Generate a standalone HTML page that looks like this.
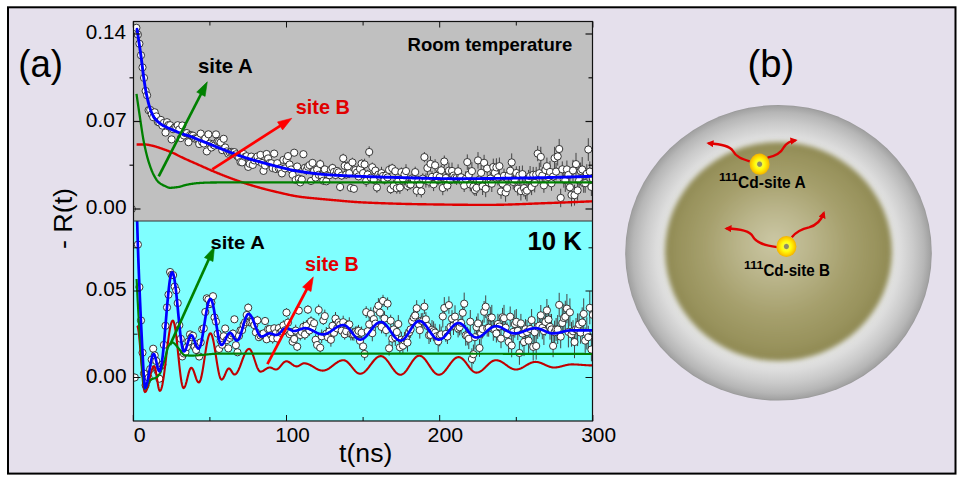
<!DOCTYPE html>
<html><head><meta charset="utf-8"><style>
html,body{margin:0;padding:0;background:#fff;}
body{width:962px;height:484px;overflow:hidden;}
svg{display:block;}
</style></head><body>
<svg width="962" height="484" viewBox="0 0 962 484">
<rect x="0" y="0" width="962" height="484" fill="#ffffff"/>
<rect x="8" y="7.3" width="947.5" height="466.3" fill="#e5e0ec" stroke="#000" stroke-width="2"/>
<rect x="133.5" y="22" width="459" height="199" fill="#c0c0c0"/>
<rect x="133.5" y="221" width="459" height="200" fill="#80ffff"/>
<clipPath id="cu"><rect x="133.5" y="22" width="459" height="199"/></clipPath>
<clipPath id="cl"><rect x="133.5" y="221" width="459" height="200"/></clipPath>
<path d="M137.9,33.4V35.9 M139.4,42.4V44.9 M141.0,53.8V56.8 M142.5,66.1V68.8 M144.0,76.3V79.6 M145.6,89.4V92.4 M147.1,93.4V97.2 M148.6,108.7V111.6 M150.2,108.5V111.2 M151.7,112.4V116.1 M153.2,115.8V118.6 M154.7,110.8V113.9 M156.3,114.7V118.0 M157.8,120.5V123.4 M159.3,120.7V124.3 M160.9,118.2V121.7 M162.4,123.9V127.2 M163.9,120.9V124.6 M165.5,131.0V134.1 M167.0,120.2V124.2 M168.5,123.1V126.9 M170.1,123.8V126.7 M171.6,137.7V141.1 M173.1,127.5V131.0 M174.7,126.1V128.9 M176.2,125.3V129.0 M177.7,123.1V127.4 M179.3,127.5V131.3 M180.8,136.2V140.0 M182.3,123.3V127.8 M183.9,133.6V137.3 M185.4,131.1V135.2 M186.9,131.1V135.1 M188.5,140.5V144.0 M190.0,133.1V136.8 M191.5,133.5V137.3 M193.0,134.0V137.4 M194.6,136.1V140.6 M196.1,137.2V140.6 M197.6,136.1V140.8 M199.2,142.3V145.6 M200.7,131.2V136.0 M202.2,139.8V144.6 M203.8,141.5V145.5 M205.3,136.4V140.4 M206.8,149.6V153.2 M208.4,132.4V136.1 M209.9,141.5V145.8 M211.4,145.2V149.7 M213.0,142.3V146.5 M214.5,143.4V147.6 M216.0,131.9V136.8 M217.6,139.0V143.6 M219.1,139.5V143.2 M220.6,139.8V145.2 M222.2,147.5V152.7 M223.7,136.6V141.0 M225.2,145.0V150.0 M226.8,149.5V153.3 M228.3,151.7V155.8 M229.8,150.3V154.8 M231.3,149.8V153.9 M232.9,150.3V154.4 M234.4,149.2V155.0 M235.9,151.7V156.9 M237.5,153.9V158.6 M239.0,155.2V160.0 M240.5,158.9V165.2 M242.1,159.8V164.9 M243.6,151.8V156.2 M245.1,154.3V159.3 M246.7,153.9V158.5 M248.2,164.8V169.0 M249.7,161.6V166.1 M251.3,153.8V159.4 M252.8,161.6V168.3 M254.3,157.1V163.6 M255.9,155.8V161.1 M257.4,154.1V158.9 M258.9,158.2V164.6 M260.5,152.2V157.6 M262.0,159.4V166.5 M263.5,167.5V174.2 M265.1,162.2V168.7 M266.6,151.4V156.6 M268.1,156.1V160.8 M269.6,160.6V165.4 M271.2,159.9V166.5 M272.7,164.5V171.8 M274.2,149.9V157.4 M275.8,165.2V172.7 M277.3,160.4V166.0 M278.8,165.8V171.3 M280.4,164.5V172.0 M281.9,169.7V177.1 M283.4,156.2V163.5 M285.0,165.7V171.1 M286.5,156.5V164.0 M288.0,152.4V159.8 M289.6,160.7V168.3 M291.1,166.3V172.6 M292.6,171.5V178.0 M294.2,149.4V156.0 M295.7,176.9V182.9 M297.2,163.6V169.5 M298.8,174.7V182.8 M300.3,179.4V185.4 M301.8,175.7V183.3 M303.4,150.8V157.5 M304.9,164.9V170.6 M306.4,165.9V174.8 M307.9,162.3V171.1 M309.5,161.4V168.7 M311.0,177.7V184.3 M312.5,159.5V166.3 M314.1,167.1V175.0 M315.6,174.2V181.0 M317.1,165.0V174.1 M318.7,171.1V178.4 M320.2,159.5V168.7 M321.7,171.9V179.5 M323.3,176.6V184.7 M324.8,165.3V173.4 M326.3,177.8V184.8 M327.9,171.5V177.9 M329.4,171.2V179.3 M330.9,165.2V174.3 M332.5,163.8V172.2 M334.0,167.6V176.2 M335.5,170.7V179.3 M337.1,167.2V174.7 M338.6,168.0V176.6 M340.1,182.6V191.4 M341.7,171.4V179.9 M343.2,153.7V162.9 M344.7,161.0V170.6 M346.2,170.1V178.8 M347.8,161.2V171.9 M349.3,168.3V178.1 M350.8,183.8V191.9 M352.4,157.7V167.1 M353.9,184.9V192.6 M355.4,166.2V174.0 M357.0,168.4V176.6 M358.5,172.6V180.2 M360.0,163.3V174.4 M361.6,159.6V167.7 M363.1,169.0V177.1 M364.6,158.7V170.0 M366.2,175.1V186.8 M367.7,169.9V179.2 M369.2,146.3V157.6 M370.8,173.4V181.9 M372.3,162.5V171.8 M373.8,175.5V184.2 M375.4,166.6V174.6 M376.9,182.3V192.8 M378.4,169.8V179.3 M380.0,171.1V182.0 M381.5,166.8V179.4 M383.0,170.0V181.8 M384.5,175.2V184.6 M386.1,171.3V179.8 M387.6,172.9V181.9 M389.1,164.7V175.1 M390.7,184.4V194.0 M392.2,163.7V172.9 M393.7,179.8V191.7 M395.3,166.7V175.7 M396.8,183.0V193.7 M398.3,176.5V185.6 M399.9,181.2V193.9 M401.4,167.5V176.7 M402.9,172.0V185.2 M404.5,168.6V179.9 M406.0,164.2V177.9 M407.5,180.7V191.1 M409.1,178.8V189.2 M410.6,179.6V189.3 M412.1,173.3V183.5 M413.7,173.9V184.8 M415.2,166.7V177.5 M416.7,184.7V196.8 M418.3,175.8V185.4 M419.8,178.9V189.7 M421.3,185.0V197.5 M422.8,173.3V183.9 M424.4,152.0V162.2 M425.9,173.4V187.6 M427.4,160.8V175.1 M429.0,175.6V187.6 M430.5,156.2V171.6 M432.0,170.9V182.8 M433.6,177.6V191.1 M435.1,159.2V171.5 M436.6,170.4V181.2 M438.2,174.7V185.3 M439.7,171.6V182.7 M441.2,164.9V175.7 M442.8,180.9V195.2 M444.3,155.5V167.5 M445.8,171.4V184.6 M447.4,179.8V191.3 M448.9,162.5V178.8 M450.4,171.9V188.4 M452.0,162.6V179.2 M453.5,169.3V181.9 M455.0,170.8V184.0 M456.6,171.1V184.9 M458.1,164.3V178.4 M459.6,172.1V183.1 M461.1,170.5V184.1 M462.7,176.1V187.5 M464.2,179.4V192.0 M465.7,171.3V186.3 M467.3,154.4V169.9 M468.8,166.8V182.8 M470.3,177.7V191.3 M471.9,162.2V180.1 M473.4,178.8V194.5 M474.9,184.0V195.9 M476.5,179.9V195.8 M478.0,152.1V168.7 M479.5,171.9V187.2 M481.1,165.1V180.4 M482.6,177.5V195.0 M484.1,154.8V170.7 M485.7,180.4V197.2 M487.2,161.7V175.4 M488.7,175.1V189.8 M490.3,172.0V184.9 M491.8,175.4V192.0 M493.3,158.6V175.4 M494.9,166.5V179.0 M496.4,158.3V176.5 M497.9,169.1V185.4 M499.4,157.5V174.8 M501.0,184.3V198.8 M502.5,176.9V190.2 M504.0,168.6V183.0 M505.6,183.4V201.7 M507.1,180.3V196.1 M508.6,167.3V183.8 M510.2,161.8V179.5 M511.7,153.4V171.3 M513.2,174.4V189.5 M514.8,170.2V189.1 M516.3,166.3V179.7 M517.8,181.8V195.6 M519.4,166.0V184.8 M520.9,181.8V200.5 M522.4,165.5V182.7 M524.0,179.5V196.7 M525.5,184.1V199.4 M527.0,179.9V201.3 M528.6,169.9V187.3 M530.1,166.0V186.4 M531.6,179.0V195.1 M533.2,166.9V182.7 M534.7,173.6V192.4 M536.2,166.9V182.3 M537.7,145.9V161.2 M539.3,162.7V183.7 M540.8,146.8V167.0 M542.3,167.4V183.8 M543.9,178.0V192.8 M545.4,162.7V177.4 M546.9,157.6V174.8 M548.5,169.1V185.0 M550.0,161.0V182.8 M551.5,175.9V190.8 M553.1,168.5V184.5 M554.6,146.8V169.7 M556.1,162.9V180.4 M557.7,147.2V165.6 M559.2,138.9V159.2 M560.7,188.7V207.2 M562.3,161.4V177.2 M563.8,171.3V187.7 M565.3,168.2V191.9 M566.9,160.5V178.2 M568.4,166.2V183.6 M569.9,177.8V196.8 M571.5,183.4V206.4 M573.0,159.8V181.3 M574.5,184.7V205.6 M576.0,152.9V175.4 M577.6,180.4V200.5 M579.1,168.9V191.9 M580.6,162.5V179.2 M582.2,157.1V181.9 M583.7,173.3V192.8 M585.2,173.6V192.8 M586.8,164.2V183.2 M588.3,138.2V160.9 M589.8,161.4V181.8 M591.4,177.7V196.0 M592.9,166.0V191.4" stroke="#444" stroke-width="1" fill="none" clip-path="url(#cu)"/>
<g fill="#fff" stroke="#222" stroke-width="0.9" clip-path="url(#cu)"><circle cx="131.8" cy="209.0" r="3.6"/><circle cx="133.3" cy="31.8" r="3.6"/><circle cx="134.8" cy="32.8" r="3.6"/><circle cx="136.4" cy="27.8" r="3.6"/><circle cx="137.9" cy="34.6" r="3.6"/><circle cx="139.4" cy="43.7" r="3.6"/><circle cx="141.0" cy="55.3" r="3.6"/><circle cx="142.5" cy="67.4" r="3.6"/><circle cx="144.0" cy="77.9" r="3.6"/><circle cx="145.6" cy="90.9" r="3.6"/><circle cx="147.1" cy="95.3" r="3.6"/><circle cx="148.6" cy="110.2" r="3.6"/><circle cx="150.2" cy="109.9" r="3.6"/><circle cx="151.7" cy="114.3" r="3.6"/><circle cx="153.2" cy="117.2" r="3.6"/><circle cx="154.7" cy="112.3" r="3.6"/><circle cx="156.3" cy="116.4" r="3.6"/><circle cx="157.8" cy="121.9" r="3.6"/><circle cx="159.3" cy="122.5" r="3.6"/><circle cx="160.9" cy="119.9" r="3.6"/><circle cx="162.4" cy="125.6" r="3.6"/><circle cx="163.9" cy="122.8" r="3.6"/><circle cx="165.5" cy="132.6" r="3.6"/><circle cx="167.0" cy="122.2" r="3.6"/><circle cx="168.5" cy="125.0" r="3.6"/><circle cx="170.1" cy="125.2" r="3.6"/><circle cx="171.6" cy="139.4" r="3.6"/><circle cx="173.1" cy="129.2" r="3.6"/><circle cx="174.7" cy="127.5" r="3.6"/><circle cx="176.2" cy="127.1" r="3.6"/><circle cx="177.7" cy="125.2" r="3.6"/><circle cx="179.3" cy="129.4" r="3.6"/><circle cx="180.8" cy="138.1" r="3.6"/><circle cx="182.3" cy="125.5" r="3.6"/><circle cx="183.9" cy="135.5" r="3.6"/><circle cx="185.4" cy="133.1" r="3.6"/><circle cx="186.9" cy="133.1" r="3.6"/><circle cx="188.5" cy="142.2" r="3.6"/><circle cx="190.0" cy="135.0" r="3.6"/><circle cx="191.5" cy="135.4" r="3.6"/><circle cx="193.0" cy="135.7" r="3.6"/><circle cx="194.6" cy="138.4" r="3.6"/><circle cx="196.1" cy="138.9" r="3.6"/><circle cx="197.6" cy="138.4" r="3.6"/><circle cx="199.2" cy="144.0" r="3.6"/><circle cx="200.7" cy="133.6" r="3.6"/><circle cx="202.2" cy="142.2" r="3.6"/><circle cx="203.8" cy="143.5" r="3.6"/><circle cx="205.3" cy="138.4" r="3.6"/><circle cx="206.8" cy="151.4" r="3.6"/><circle cx="208.4" cy="134.3" r="3.6"/><circle cx="209.9" cy="143.6" r="3.6"/><circle cx="211.4" cy="147.5" r="3.6"/><circle cx="213.0" cy="144.4" r="3.6"/><circle cx="214.5" cy="145.5" r="3.6"/><circle cx="216.0" cy="134.4" r="3.6"/><circle cx="217.6" cy="141.3" r="3.6"/><circle cx="219.1" cy="141.4" r="3.6"/><circle cx="220.6" cy="142.5" r="3.6"/><circle cx="222.2" cy="150.1" r="3.6"/><circle cx="223.7" cy="138.8" r="3.6"/><circle cx="225.2" cy="147.5" r="3.6"/><circle cx="226.8" cy="151.4" r="3.6"/><circle cx="228.3" cy="153.7" r="3.6"/><circle cx="229.8" cy="152.6" r="3.6"/><circle cx="231.3" cy="151.9" r="3.6"/><circle cx="232.9" cy="152.4" r="3.6"/><circle cx="234.4" cy="152.1" r="3.6"/><circle cx="235.9" cy="154.3" r="3.6"/><circle cx="237.5" cy="156.3" r="3.6"/><circle cx="239.0" cy="157.6" r="3.6"/><circle cx="240.5" cy="162.0" r="3.6"/><circle cx="242.1" cy="162.4" r="3.6"/><circle cx="243.6" cy="154.0" r="3.6"/><circle cx="245.1" cy="156.8" r="3.6"/><circle cx="246.7" cy="156.2" r="3.6"/><circle cx="248.2" cy="166.9" r="3.6"/><circle cx="249.7" cy="163.8" r="3.6"/><circle cx="251.3" cy="156.6" r="3.6"/><circle cx="252.8" cy="164.9" r="3.6"/><circle cx="254.3" cy="160.4" r="3.6"/><circle cx="255.9" cy="158.5" r="3.6"/><circle cx="257.4" cy="156.5" r="3.6"/><circle cx="258.9" cy="161.4" r="3.6"/><circle cx="260.5" cy="154.9" r="3.6"/><circle cx="262.0" cy="163.0" r="3.6"/><circle cx="263.5" cy="170.9" r="3.6"/><circle cx="265.1" cy="165.5" r="3.6"/><circle cx="266.6" cy="154.0" r="3.6"/><circle cx="268.1" cy="158.4" r="3.6"/><circle cx="269.6" cy="163.0" r="3.6"/><circle cx="271.2" cy="163.2" r="3.6"/><circle cx="272.7" cy="168.1" r="3.6"/><circle cx="274.2" cy="153.6" r="3.6"/><circle cx="275.8" cy="169.0" r="3.6"/><circle cx="277.3" cy="163.2" r="3.6"/><circle cx="278.8" cy="168.6" r="3.6"/><circle cx="280.4" cy="168.3" r="3.6"/><circle cx="281.9" cy="173.4" r="3.6"/><circle cx="283.4" cy="159.9" r="3.6"/><circle cx="285.0" cy="168.4" r="3.6"/><circle cx="286.5" cy="160.2" r="3.6"/><circle cx="288.0" cy="156.1" r="3.6"/><circle cx="289.6" cy="164.5" r="3.6"/><circle cx="291.1" cy="169.5" r="3.6"/><circle cx="292.6" cy="174.8" r="3.6"/><circle cx="294.2" cy="152.7" r="3.6"/><circle cx="295.7" cy="179.9" r="3.6"/><circle cx="297.2" cy="166.5" r="3.6"/><circle cx="298.8" cy="178.7" r="3.6"/><circle cx="300.3" cy="182.4" r="3.6"/><circle cx="301.8" cy="179.5" r="3.6"/><circle cx="303.4" cy="154.2" r="3.6"/><circle cx="304.9" cy="167.8" r="3.6"/><circle cx="306.4" cy="170.3" r="3.6"/><circle cx="307.9" cy="166.7" r="3.6"/><circle cx="309.5" cy="165.1" r="3.6"/><circle cx="311.0" cy="181.0" r="3.6"/><circle cx="312.5" cy="162.9" r="3.6"/><circle cx="314.1" cy="171.1" r="3.6"/><circle cx="315.6" cy="177.6" r="3.6"/><circle cx="317.1" cy="169.5" r="3.6"/><circle cx="318.7" cy="174.8" r="3.6"/><circle cx="320.2" cy="164.1" r="3.6"/><circle cx="321.7" cy="175.7" r="3.6"/><circle cx="323.3" cy="180.7" r="3.6"/><circle cx="324.8" cy="169.4" r="3.6"/><circle cx="326.3" cy="181.3" r="3.6"/><circle cx="327.9" cy="174.7" r="3.6"/><circle cx="329.4" cy="175.2" r="3.6"/><circle cx="330.9" cy="169.7" r="3.6"/><circle cx="332.5" cy="168.0" r="3.6"/><circle cx="334.0" cy="171.9" r="3.6"/><circle cx="335.5" cy="175.0" r="3.6"/><circle cx="337.1" cy="170.9" r="3.6"/><circle cx="338.6" cy="172.3" r="3.6"/><circle cx="340.1" cy="187.0" r="3.6"/><circle cx="341.7" cy="175.6" r="3.6"/><circle cx="343.2" cy="158.3" r="3.6"/><circle cx="344.7" cy="165.8" r="3.6"/><circle cx="346.2" cy="174.5" r="3.6"/><circle cx="347.8" cy="166.5" r="3.6"/><circle cx="349.3" cy="173.2" r="3.6"/><circle cx="350.8" cy="187.9" r="3.6"/><circle cx="352.4" cy="162.4" r="3.6"/><circle cx="353.9" cy="188.8" r="3.6"/><circle cx="355.4" cy="170.1" r="3.6"/><circle cx="357.0" cy="172.5" r="3.6"/><circle cx="358.5" cy="176.4" r="3.6"/><circle cx="360.0" cy="168.8" r="3.6"/><circle cx="361.6" cy="163.6" r="3.6"/><circle cx="363.1" cy="173.1" r="3.6"/><circle cx="364.6" cy="164.4" r="3.6"/><circle cx="366.2" cy="181.0" r="3.6"/><circle cx="367.7" cy="174.5" r="3.6"/><circle cx="369.2" cy="152.0" r="3.6"/><circle cx="370.8" cy="177.7" r="3.6"/><circle cx="372.3" cy="167.2" r="3.6"/><circle cx="373.8" cy="179.8" r="3.6"/><circle cx="375.4" cy="170.6" r="3.6"/><circle cx="376.9" cy="187.5" r="3.6"/><circle cx="378.4" cy="174.6" r="3.6"/><circle cx="380.0" cy="176.6" r="3.6"/><circle cx="381.5" cy="173.1" r="3.6"/><circle cx="383.0" cy="175.9" r="3.6"/><circle cx="384.5" cy="179.9" r="3.6"/><circle cx="386.1" cy="175.5" r="3.6"/><circle cx="387.6" cy="177.4" r="3.6"/><circle cx="389.1" cy="169.9" r="3.6"/><circle cx="390.7" cy="189.2" r="3.6"/><circle cx="392.2" cy="168.3" r="3.6"/><circle cx="393.7" cy="185.8" r="3.6"/><circle cx="395.3" cy="171.2" r="3.6"/><circle cx="396.8" cy="188.3" r="3.6"/><circle cx="398.3" cy="181.0" r="3.6"/><circle cx="399.9" cy="187.5" r="3.6"/><circle cx="401.4" cy="172.1" r="3.6"/><circle cx="402.9" cy="178.6" r="3.6"/><circle cx="404.5" cy="174.3" r="3.6"/><circle cx="406.0" cy="171.1" r="3.6"/><circle cx="407.5" cy="185.9" r="3.6"/><circle cx="409.1" cy="184.0" r="3.6"/><circle cx="410.6" cy="184.5" r="3.6"/><circle cx="412.1" cy="178.4" r="3.6"/><circle cx="413.7" cy="179.3" r="3.6"/><circle cx="415.2" cy="172.1" r="3.6"/><circle cx="416.7" cy="190.8" r="3.6"/><circle cx="418.3" cy="180.6" r="3.6"/><circle cx="419.8" cy="184.3" r="3.6"/><circle cx="421.3" cy="191.3" r="3.6"/><circle cx="422.8" cy="178.6" r="3.6"/><circle cx="424.4" cy="157.1" r="3.6"/><circle cx="425.9" cy="180.5" r="3.6"/><circle cx="427.4" cy="168.0" r="3.6"/><circle cx="429.0" cy="181.6" r="3.6"/><circle cx="430.5" cy="163.9" r="3.6"/><circle cx="432.0" cy="176.9" r="3.6"/><circle cx="433.6" cy="184.3" r="3.6"/><circle cx="435.1" cy="165.3" r="3.6"/><circle cx="436.6" cy="175.8" r="3.6"/><circle cx="438.2" cy="180.0" r="3.6"/><circle cx="439.7" cy="177.1" r="3.6"/><circle cx="441.2" cy="170.3" r="3.6"/><circle cx="442.8" cy="188.0" r="3.6"/><circle cx="444.3" cy="161.5" r="3.6"/><circle cx="445.8" cy="178.0" r="3.6"/><circle cx="447.4" cy="185.6" r="3.6"/><circle cx="448.9" cy="170.7" r="3.6"/><circle cx="450.4" cy="180.2" r="3.6"/><circle cx="452.0" cy="170.9" r="3.6"/><circle cx="453.5" cy="175.6" r="3.6"/><circle cx="455.0" cy="177.4" r="3.6"/><circle cx="456.6" cy="178.0" r="3.6"/><circle cx="458.1" cy="171.3" r="3.6"/><circle cx="459.6" cy="177.6" r="3.6"/><circle cx="461.1" cy="177.3" r="3.6"/><circle cx="462.7" cy="181.8" r="3.6"/><circle cx="464.2" cy="185.7" r="3.6"/><circle cx="465.7" cy="178.8" r="3.6"/><circle cx="467.3" cy="162.1" r="3.6"/><circle cx="468.8" cy="174.8" r="3.6"/><circle cx="470.3" cy="184.5" r="3.6"/><circle cx="471.9" cy="171.1" r="3.6"/><circle cx="473.4" cy="186.6" r="3.6"/><circle cx="474.9" cy="189.9" r="3.6"/><circle cx="476.5" cy="187.8" r="3.6"/><circle cx="478.0" cy="160.4" r="3.6"/><circle cx="479.5" cy="179.6" r="3.6"/><circle cx="481.1" cy="172.8" r="3.6"/><circle cx="482.6" cy="186.3" r="3.6"/><circle cx="484.1" cy="162.8" r="3.6"/><circle cx="485.7" cy="188.8" r="3.6"/><circle cx="487.2" cy="168.5" r="3.6"/><circle cx="488.7" cy="182.5" r="3.6"/><circle cx="490.3" cy="178.5" r="3.6"/><circle cx="491.8" cy="183.7" r="3.6"/><circle cx="493.3" cy="167.0" r="3.6"/><circle cx="494.9" cy="172.8" r="3.6"/><circle cx="496.4" cy="167.4" r="3.6"/><circle cx="497.9" cy="177.3" r="3.6"/><circle cx="499.4" cy="166.1" r="3.6"/><circle cx="501.0" cy="191.5" r="3.6"/><circle cx="502.5" cy="183.6" r="3.6"/><circle cx="504.0" cy="175.8" r="3.6"/><circle cx="505.6" cy="192.6" r="3.6"/><circle cx="507.1" cy="188.2" r="3.6"/><circle cx="508.6" cy="175.5" r="3.6"/><circle cx="510.2" cy="170.7" r="3.6"/><circle cx="511.7" cy="162.4" r="3.6"/><circle cx="513.2" cy="181.9" r="3.6"/><circle cx="514.8" cy="179.7" r="3.6"/><circle cx="516.3" cy="173.0" r="3.6"/><circle cx="517.8" cy="188.7" r="3.6"/><circle cx="519.4" cy="175.4" r="3.6"/><circle cx="520.9" cy="191.1" r="3.6"/><circle cx="522.4" cy="174.1" r="3.6"/><circle cx="524.0" cy="188.1" r="3.6"/><circle cx="525.5" cy="191.8" r="3.6"/><circle cx="527.0" cy="190.6" r="3.6"/><circle cx="528.6" cy="178.6" r="3.6"/><circle cx="530.1" cy="176.2" r="3.6"/><circle cx="531.6" cy="187.1" r="3.6"/><circle cx="533.2" cy="174.8" r="3.6"/><circle cx="534.7" cy="183.0" r="3.6"/><circle cx="536.2" cy="174.6" r="3.6"/><circle cx="537.7" cy="153.6" r="3.6"/><circle cx="539.3" cy="173.2" r="3.6"/><circle cx="540.8" cy="156.9" r="3.6"/><circle cx="542.3" cy="175.6" r="3.6"/><circle cx="543.9" cy="185.4" r="3.6"/><circle cx="545.4" cy="170.0" r="3.6"/><circle cx="546.9" cy="166.2" r="3.6"/><circle cx="548.5" cy="177.1" r="3.6"/><circle cx="550.0" cy="171.9" r="3.6"/><circle cx="551.5" cy="183.3" r="3.6"/><circle cx="553.1" cy="176.5" r="3.6"/><circle cx="554.6" cy="158.2" r="3.6"/><circle cx="556.1" cy="171.6" r="3.6"/><circle cx="557.7" cy="156.4" r="3.6"/><circle cx="559.2" cy="149.0" r="3.6"/><circle cx="560.7" cy="197.9" r="3.6"/><circle cx="562.3" cy="169.3" r="3.6"/><circle cx="563.8" cy="179.5" r="3.6"/><circle cx="565.3" cy="180.1" r="3.6"/><circle cx="566.9" cy="169.4" r="3.6"/><circle cx="568.4" cy="174.9" r="3.6"/><circle cx="569.9" cy="187.3" r="3.6"/><circle cx="571.5" cy="194.9" r="3.6"/><circle cx="573.0" cy="170.5" r="3.6"/><circle cx="574.5" cy="195.2" r="3.6"/><circle cx="576.0" cy="164.1" r="3.6"/><circle cx="577.6" cy="190.4" r="3.6"/><circle cx="579.1" cy="180.4" r="3.6"/><circle cx="580.6" cy="170.9" r="3.6"/><circle cx="582.2" cy="169.5" r="3.6"/><circle cx="583.7" cy="183.1" r="3.6"/><circle cx="585.2" cy="183.2" r="3.6"/><circle cx="586.8" cy="173.7" r="3.6"/><circle cx="588.3" cy="149.5" r="3.6"/><circle cx="589.8" cy="171.6" r="3.6"/><circle cx="591.4" cy="186.9" r="3.6"/><circle cx="592.9" cy="178.7" r="3.6"/></g>
<path d="M137.9,242.9V246.4 M139.4,285.4V288.9 M141.0,318.7V322.4 M142.5,350.8V354.5 M144.0,371.2V375.9 M145.6,383.2V387.3 M147.1,378.6V382.6 M148.6,375.8V379.9 M150.2,366.5V371.7 M151.7,357.8V361.4 M153.2,346.2V351.3 M154.7,353.4V357.3 M156.3,358.9V363.2 M157.8,369.0V373.4 M159.3,376.1V381.4 M160.9,364.1V367.7 M162.4,361.9V367.3 M163.9,342.6V347.2 M165.5,323.5V328.0 M167.0,304.6V310.2 M168.5,291.8V297.6 M170.1,269.9V274.2 M171.6,272.3V277.2 M173.1,272.4V277.7 M174.7,283.9V289.2 M176.2,287.6V293.2 M177.7,301.1V305.1 M179.3,322.4V328.1 M180.8,336.1V341.5 M182.3,354.1V358.8 M183.9,350.7V356.2 M185.4,349.3V355.1 M186.9,344.3V349.7 M188.5,338.8V344.4 M190.0,331.6V337.2 M191.5,335.0V339.3 M193.0,332.4V339.0 M194.6,343.9V349.8 M196.1,347.5V352.4 M197.6,341.4V346.5 M199.2,353.9V359.1 M200.7,340.1V344.7 M202.2,326.4V332.0 M203.8,325.7V330.9 M205.3,309.4V314.7 M206.8,295.9V300.7 M208.4,296.2V302.7 M209.9,301.5V306.8 M211.4,299.5V305.7 M213.0,293.5V298.9 M214.5,313.9V321.0 M216.0,318.8V324.4 M217.6,330.8V336.6 M219.1,345.0V352.8 M220.6,337.8V343.5 M222.2,341.6V348.0 M223.7,333.4V339.0 M225.2,325.3V331.7 M226.8,337.2V342.9 M228.3,345.7V351.2 M229.8,333.9V342.0 M231.3,331.5V339.6 M232.9,329.4V337.7 M234.4,316.0V322.6 M235.9,341.3V349.2 M237.5,349.5V355.2 M239.0,332.5V339.4 M240.5,326.9V333.7 M242.1,326.8V333.4 M243.6,321.3V328.3 M245.1,317.6V326.7 M246.7,311.7V318.3 M248.2,303.4V312.1 M249.7,318.7V326.2 M251.3,318.6V325.9 M252.8,316.6V325.9 M254.3,320.5V329.8 M255.9,329.2V335.5 M257.4,315.8V324.8 M258.9,334.0V340.4 M260.5,330.7V340.4 M262.0,330.7V338.1 M263.5,329.5V337.2 M265.1,317.3V324.8 M266.6,335.5V343.0 M268.1,324.5V333.9 M269.6,325.8V332.5 M271.2,330.3V339.9 M272.7,333.2V343.6 M274.2,324.8V331.8 M275.8,327.8V338.5 M277.3,333.1V343.8 M278.8,323.8V332.5 M280.4,328.1V337.2 M281.9,326.3V336.7 M283.4,320.3V330.5 M285.0,325.3V335.0 M286.5,308.2V316.9 M288.0,317.3V327.9 M289.6,330.2V338.0 M291.1,328.0V336.5 M292.6,337.8V345.6 M294.2,334.5V343.5 M295.7,324.7V336.6 M297.2,342.3V351.2 M298.8,306.5V314.6 M300.3,329.5V340.5 M301.8,327.0V336.9 M303.4,321.4V332.1 M304.9,329.0V340.0 M306.4,320.0V331.1 M307.9,305.2V314.0 M309.5,325.0V335.8 M311.0,316.3V326.3 M312.5,322.9V332.4 M314.1,318.4V328.0 M315.6,334.2V345.4 M317.1,339.9V350.0 M318.7,304.5V315.5 M320.2,342.9V352.6 M321.7,329.5V343.1 M323.3,315.7V325.0 M324.8,309.6V322.7 M326.3,327.0V340.4 M327.9,332.6V342.2 M329.4,326.5V336.5 M330.9,332.9V346.7 M332.5,320.2V331.3 M334.0,327.5V338.1 M335.5,312.0V325.3 M337.1,322.1V334.6 M338.6,316.1V328.8 M340.1,319.7V329.9 M341.7,325.4V336.1 M343.2,315.7V328.8 M344.7,328.9V339.7 M346.2,324.4V337.9 M347.8,320.0V330.9 M349.3,317.3V331.6 M350.8,327.4V340.4 M352.4,328.1V340.4 M353.9,327.6V340.7 M355.4,326.5V337.6 M357.0,325.9V340.1 M358.5,324.9V336.9 M360.0,332.9V348.8 M361.6,326.5V339.0 M363.1,339.9V352.9 M364.6,347.7V360.4 M366.2,306.2V318.0 M367.7,325.8V336.5 M369.2,316.2V332.4 M370.8,307.3V320.6 M372.3,325.0V341.3 M373.8,313.6V324.6 M375.4,316.4V330.8 M376.9,303.4V315.0 M378.4,298.1V313.2 M380.0,306.6V318.7 M381.5,320.3V333.4 M383.0,294.8V306.9 M384.5,311.2V325.8 M386.1,323.7V336.5 M387.6,297.4V309.8 M389.1,340.9V355.7 M390.7,314.7V326.8 M392.2,329.7V347.5 M393.7,321.4V337.4 M395.3,328.7V345.9 M396.8,325.3V338.8 M398.3,315.1V332.8 M399.9,340.6V354.0 M401.4,331.8V347.6 M402.9,338.2V353.2 M404.5,331.9V349.3 M406.0,329.4V348.1 M407.5,333.7V351.6 M409.1,326.0V338.9 M410.6,320.9V337.9 M412.1,312.8V329.5 M413.7,309.6V325.4 M415.2,307.0V324.1 M416.7,300.2V316.4 M418.3,316.1V332.4 M419.8,321.9V338.6 M421.3,313.2V328.2 M422.8,312.9V329.6 M424.4,299.3V314.0 M425.9,312.1V326.5 M427.4,317.7V334.4 M429.0,326.6V344.0 M430.5,327.9V341.9 M432.0,320.0V339.4 M433.6,321.3V341.2 M435.1,323.7V341.5 M436.6,327.8V344.7 M438.2,331.0V351.8 M439.7,324.3V346.3 M441.2,326.5V342.2 M442.8,305.4V327.5 M444.3,297.1V318.8 M445.8,326.0V341.8 M447.4,329.0V344.0 M448.9,296.4V313.8 M450.4,315.9V337.9 M452.0,310.2V327.1 M453.5,316.1V335.0 M455.0,305.3V327.8 M456.6,313.6V332.7 M458.1,319.7V337.4 M459.6,319.0V335.4 M461.1,311.3V334.4 M462.7,304.5V321.2 M464.2,292.6V314.7 M465.7,324.8V345.7 M467.3,326.8V345.4 M468.8,328.5V349.1 M470.3,310.0V333.4 M471.9,348.3V369.6 M473.4,344.6V363.9 M474.9,324.8V349.6 M476.5,316.6V337.7 M478.0,313.4V333.4 M479.5,339.2V356.9 M481.1,321.5V345.2 M482.6,319.8V338.4 M484.1,301.0V322.7 M485.7,295.4V317.9 M487.2,319.8V336.6 M488.7,318.7V336.7 M490.3,306.9V328.3 M491.8,304.9V330.1 M493.3,317.8V340.8 M494.9,320.8V337.9 M496.4,324.5V342.5 M497.9,313.8V334.3 M499.4,315.1V338.0 M501.0,329.0V348.2 M502.5,307.9V326.5 M504.0,304.9V331.5 M505.6,318.5V336.9 M507.1,322.4V346.3 M508.6,331.1V352.7 M510.2,306.5V326.9 M511.7,333.8V357.3 M513.2,321.2V342.6 M514.8,310.2V337.7 M516.3,309.0V334.6 M517.8,321.5V340.1 M519.4,341.1V364.8 M520.9,313.9V332.9 M522.4,320.4V346.8 M524.0,327.8V356.1 M525.5,319.1V339.2 M527.0,320.0V344.0 M528.6,327.9V353.4 M530.1,318.0V340.1 M531.6,309.1V331.2 M533.2,333.2V360.6 M534.7,318.9V345.7 M536.2,332.4V359.6 M537.7,314.6V338.9 M539.3,314.8V336.6 M540.8,305.0V325.6 M542.3,316.1V339.3 M543.9,317.1V345.0 M545.4,308.2V335.7 M546.9,299.0V321.7 M548.5,305.1V333.8 M550.0,313.9V339.7 M551.5,313.9V344.8 M553.1,334.6V357.2 M554.6,320.6V343.8 M556.1,318.0V340.9 M557.7,315.0V344.0 M559.2,292.8V317.0 M560.7,325.0V348.3 M562.3,307.4V338.6 M563.8,303.8V332.2 M565.3,300.7V332.9 M566.9,294.0V323.1 M568.4,316.3V347.4 M569.9,298.4V326.2 M571.5,321.9V346.7 M573.0,320.2V342.4 M574.5,325.9V358.2 M576.0,318.0V340.7 M577.6,313.4V346.1 M579.1,313.6V335.5 M580.6,321.5V343.7 M582.2,307.4V337.7 M583.7,298.4V329.3 M585.2,327.4V353.9 M586.8,317.3V349.5 M588.3,325.7V348.6 M589.8,291.2V324.3 M591.4,337.6V361.3 M592.9,302.4V327.4" stroke="#444" stroke-width="1" fill="none" clip-path="url(#cl)"/>
<g fill="#fff" stroke="#222" stroke-width="0.9" clip-path="url(#cl)"><circle cx="131.8" cy="377.5" r="3.6"/><circle cx="133.3" cy="377.5" r="3.6"/><circle cx="134.8" cy="377.5" r="3.6"/><circle cx="136.4" cy="206.5" r="3.6"/><circle cx="137.9" cy="244.6" r="3.6"/><circle cx="139.4" cy="287.1" r="3.6"/><circle cx="141.0" cy="320.5" r="3.6"/><circle cx="142.5" cy="352.7" r="3.6"/><circle cx="144.0" cy="373.5" r="3.6"/><circle cx="145.6" cy="385.2" r="3.6"/><circle cx="147.1" cy="380.6" r="3.6"/><circle cx="148.6" cy="377.8" r="3.6"/><circle cx="150.2" cy="369.1" r="3.6"/><circle cx="151.7" cy="359.6" r="3.6"/><circle cx="153.2" cy="348.7" r="3.6"/><circle cx="154.7" cy="355.4" r="3.6"/><circle cx="156.3" cy="361.0" r="3.6"/><circle cx="157.8" cy="371.2" r="3.6"/><circle cx="159.3" cy="378.7" r="3.6"/><circle cx="160.9" cy="365.9" r="3.6"/><circle cx="162.4" cy="364.6" r="3.6"/><circle cx="163.9" cy="344.9" r="3.6"/><circle cx="165.5" cy="325.8" r="3.6"/><circle cx="167.0" cy="307.4" r="3.6"/><circle cx="168.5" cy="294.7" r="3.6"/><circle cx="170.1" cy="272.0" r="3.6"/><circle cx="171.6" cy="274.8" r="3.6"/><circle cx="173.1" cy="275.1" r="3.6"/><circle cx="174.7" cy="286.6" r="3.6"/><circle cx="176.2" cy="290.4" r="3.6"/><circle cx="177.7" cy="303.1" r="3.6"/><circle cx="179.3" cy="325.2" r="3.6"/><circle cx="180.8" cy="338.8" r="3.6"/><circle cx="182.3" cy="356.4" r="3.6"/><circle cx="183.9" cy="353.5" r="3.6"/><circle cx="185.4" cy="352.2" r="3.6"/><circle cx="186.9" cy="347.0" r="3.6"/><circle cx="188.5" cy="341.6" r="3.6"/><circle cx="190.0" cy="334.4" r="3.6"/><circle cx="191.5" cy="337.2" r="3.6"/><circle cx="193.0" cy="335.7" r="3.6"/><circle cx="194.6" cy="346.8" r="3.6"/><circle cx="196.1" cy="350.0" r="3.6"/><circle cx="197.6" cy="344.0" r="3.6"/><circle cx="199.2" cy="356.5" r="3.6"/><circle cx="200.7" cy="342.4" r="3.6"/><circle cx="202.2" cy="329.2" r="3.6"/><circle cx="203.8" cy="328.3" r="3.6"/><circle cx="205.3" cy="312.0" r="3.6"/><circle cx="206.8" cy="298.3" r="3.6"/><circle cx="208.4" cy="299.5" r="3.6"/><circle cx="209.9" cy="304.1" r="3.6"/><circle cx="211.4" cy="302.6" r="3.6"/><circle cx="213.0" cy="296.2" r="3.6"/><circle cx="214.5" cy="317.4" r="3.6"/><circle cx="216.0" cy="321.6" r="3.6"/><circle cx="217.6" cy="333.7" r="3.6"/><circle cx="219.1" cy="348.9" r="3.6"/><circle cx="220.6" cy="340.6" r="3.6"/><circle cx="222.2" cy="344.8" r="3.6"/><circle cx="223.7" cy="336.2" r="3.6"/><circle cx="225.2" cy="328.5" r="3.6"/><circle cx="226.8" cy="340.1" r="3.6"/><circle cx="228.3" cy="348.4" r="3.6"/><circle cx="229.8" cy="337.9" r="3.6"/><circle cx="231.3" cy="335.5" r="3.6"/><circle cx="232.9" cy="333.6" r="3.6"/><circle cx="234.4" cy="319.3" r="3.6"/><circle cx="235.9" cy="345.2" r="3.6"/><circle cx="237.5" cy="352.3" r="3.6"/><circle cx="239.0" cy="335.9" r="3.6"/><circle cx="240.5" cy="330.3" r="3.6"/><circle cx="242.1" cy="330.1" r="3.6"/><circle cx="243.6" cy="324.8" r="3.6"/><circle cx="245.1" cy="322.2" r="3.6"/><circle cx="246.7" cy="315.0" r="3.6"/><circle cx="248.2" cy="307.7" r="3.6"/><circle cx="249.7" cy="322.4" r="3.6"/><circle cx="251.3" cy="322.2" r="3.6"/><circle cx="252.8" cy="321.3" r="3.6"/><circle cx="254.3" cy="325.1" r="3.6"/><circle cx="255.9" cy="332.4" r="3.6"/><circle cx="257.4" cy="320.3" r="3.6"/><circle cx="258.9" cy="337.2" r="3.6"/><circle cx="260.5" cy="335.6" r="3.6"/><circle cx="262.0" cy="334.4" r="3.6"/><circle cx="263.5" cy="333.4" r="3.6"/><circle cx="265.1" cy="321.0" r="3.6"/><circle cx="266.6" cy="339.3" r="3.6"/><circle cx="268.1" cy="329.2" r="3.6"/><circle cx="269.6" cy="329.1" r="3.6"/><circle cx="271.2" cy="335.1" r="3.6"/><circle cx="272.7" cy="338.4" r="3.6"/><circle cx="274.2" cy="328.3" r="3.6"/><circle cx="275.8" cy="333.1" r="3.6"/><circle cx="277.3" cy="338.4" r="3.6"/><circle cx="278.8" cy="328.1" r="3.6"/><circle cx="280.4" cy="332.6" r="3.6"/><circle cx="281.9" cy="331.5" r="3.6"/><circle cx="283.4" cy="325.4" r="3.6"/><circle cx="285.0" cy="330.2" r="3.6"/><circle cx="286.5" cy="312.6" r="3.6"/><circle cx="288.0" cy="322.6" r="3.6"/><circle cx="289.6" cy="334.1" r="3.6"/><circle cx="291.1" cy="332.2" r="3.6"/><circle cx="292.6" cy="341.7" r="3.6"/><circle cx="294.2" cy="339.0" r="3.6"/><circle cx="295.7" cy="330.6" r="3.6"/><circle cx="297.2" cy="346.7" r="3.6"/><circle cx="298.8" cy="310.6" r="3.6"/><circle cx="300.3" cy="335.0" r="3.6"/><circle cx="301.8" cy="332.0" r="3.6"/><circle cx="303.4" cy="326.8" r="3.6"/><circle cx="304.9" cy="334.5" r="3.6"/><circle cx="306.4" cy="325.6" r="3.6"/><circle cx="307.9" cy="309.6" r="3.6"/><circle cx="309.5" cy="330.4" r="3.6"/><circle cx="311.0" cy="321.3" r="3.6"/><circle cx="312.5" cy="327.6" r="3.6"/><circle cx="314.1" cy="323.2" r="3.6"/><circle cx="315.6" cy="339.8" r="3.6"/><circle cx="317.1" cy="345.0" r="3.6"/><circle cx="318.7" cy="310.0" r="3.6"/><circle cx="320.2" cy="347.7" r="3.6"/><circle cx="321.7" cy="336.3" r="3.6"/><circle cx="323.3" cy="320.3" r="3.6"/><circle cx="324.8" cy="316.1" r="3.6"/><circle cx="326.3" cy="333.7" r="3.6"/><circle cx="327.9" cy="337.4" r="3.6"/><circle cx="329.4" cy="331.5" r="3.6"/><circle cx="330.9" cy="339.8" r="3.6"/><circle cx="332.5" cy="325.8" r="3.6"/><circle cx="334.0" cy="332.8" r="3.6"/><circle cx="335.5" cy="318.6" r="3.6"/><circle cx="337.1" cy="328.4" r="3.6"/><circle cx="338.6" cy="322.4" r="3.6"/><circle cx="340.1" cy="324.8" r="3.6"/><circle cx="341.7" cy="330.7" r="3.6"/><circle cx="343.2" cy="322.2" r="3.6"/><circle cx="344.7" cy="334.3" r="3.6"/><circle cx="346.2" cy="331.2" r="3.6"/><circle cx="347.8" cy="325.4" r="3.6"/><circle cx="349.3" cy="324.4" r="3.6"/><circle cx="350.8" cy="333.9" r="3.6"/><circle cx="352.4" cy="334.3" r="3.6"/><circle cx="353.9" cy="334.2" r="3.6"/><circle cx="355.4" cy="332.0" r="3.6"/><circle cx="357.0" cy="333.0" r="3.6"/><circle cx="358.5" cy="330.9" r="3.6"/><circle cx="360.0" cy="340.8" r="3.6"/><circle cx="361.6" cy="332.7" r="3.6"/><circle cx="363.1" cy="346.4" r="3.6"/><circle cx="364.6" cy="354.0" r="3.6"/><circle cx="366.2" cy="312.1" r="3.6"/><circle cx="367.7" cy="331.2" r="3.6"/><circle cx="369.2" cy="324.3" r="3.6"/><circle cx="370.8" cy="314.0" r="3.6"/><circle cx="372.3" cy="333.2" r="3.6"/><circle cx="373.8" cy="319.1" r="3.6"/><circle cx="375.4" cy="323.6" r="3.6"/><circle cx="376.9" cy="309.2" r="3.6"/><circle cx="378.4" cy="305.7" r="3.6"/><circle cx="380.0" cy="312.6" r="3.6"/><circle cx="381.5" cy="326.9" r="3.6"/><circle cx="383.0" cy="300.9" r="3.6"/><circle cx="384.5" cy="318.5" r="3.6"/><circle cx="386.1" cy="330.1" r="3.6"/><circle cx="387.6" cy="303.6" r="3.6"/><circle cx="389.1" cy="348.3" r="3.6"/><circle cx="390.7" cy="320.7" r="3.6"/><circle cx="392.2" cy="338.6" r="3.6"/><circle cx="393.7" cy="329.4" r="3.6"/><circle cx="395.3" cy="337.3" r="3.6"/><circle cx="396.8" cy="332.0" r="3.6"/><circle cx="398.3" cy="324.0" r="3.6"/><circle cx="399.9" cy="347.3" r="3.6"/><circle cx="401.4" cy="339.7" r="3.6"/><circle cx="402.9" cy="345.7" r="3.6"/><circle cx="404.5" cy="340.6" r="3.6"/><circle cx="406.0" cy="338.7" r="3.6"/><circle cx="407.5" cy="342.6" r="3.6"/><circle cx="409.1" cy="332.5" r="3.6"/><circle cx="410.6" cy="329.4" r="3.6"/><circle cx="412.1" cy="321.1" r="3.6"/><circle cx="413.7" cy="317.5" r="3.6"/><circle cx="415.2" cy="315.5" r="3.6"/><circle cx="416.7" cy="308.3" r="3.6"/><circle cx="418.3" cy="324.3" r="3.6"/><circle cx="419.8" cy="330.2" r="3.6"/><circle cx="421.3" cy="320.7" r="3.6"/><circle cx="422.8" cy="321.2" r="3.6"/><circle cx="424.4" cy="306.7" r="3.6"/><circle cx="425.9" cy="319.3" r="3.6"/><circle cx="427.4" cy="326.0" r="3.6"/><circle cx="429.0" cy="335.3" r="3.6"/><circle cx="430.5" cy="334.9" r="3.6"/><circle cx="432.0" cy="329.7" r="3.6"/><circle cx="433.6" cy="331.2" r="3.6"/><circle cx="435.1" cy="332.6" r="3.6"/><circle cx="436.6" cy="336.3" r="3.6"/><circle cx="438.2" cy="341.4" r="3.6"/><circle cx="439.7" cy="335.3" r="3.6"/><circle cx="441.2" cy="334.4" r="3.6"/><circle cx="442.8" cy="316.4" r="3.6"/><circle cx="444.3" cy="308.0" r="3.6"/><circle cx="445.8" cy="333.9" r="3.6"/><circle cx="447.4" cy="336.5" r="3.6"/><circle cx="448.9" cy="305.1" r="3.6"/><circle cx="450.4" cy="326.9" r="3.6"/><circle cx="452.0" cy="318.6" r="3.6"/><circle cx="453.5" cy="325.5" r="3.6"/><circle cx="455.0" cy="316.6" r="3.6"/><circle cx="456.6" cy="323.2" r="3.6"/><circle cx="458.1" cy="328.5" r="3.6"/><circle cx="459.6" cy="327.2" r="3.6"/><circle cx="461.1" cy="322.8" r="3.6"/><circle cx="462.7" cy="312.8" r="3.6"/><circle cx="464.2" cy="303.7" r="3.6"/><circle cx="465.7" cy="335.3" r="3.6"/><circle cx="467.3" cy="336.1" r="3.6"/><circle cx="468.8" cy="338.8" r="3.6"/><circle cx="470.3" cy="321.7" r="3.6"/><circle cx="471.9" cy="359.0" r="3.6"/><circle cx="473.4" cy="354.2" r="3.6"/><circle cx="474.9" cy="337.2" r="3.6"/><circle cx="476.5" cy="327.1" r="3.6"/><circle cx="478.0" cy="323.4" r="3.6"/><circle cx="479.5" cy="348.0" r="3.6"/><circle cx="481.1" cy="333.4" r="3.6"/><circle cx="482.6" cy="329.1" r="3.6"/><circle cx="484.1" cy="311.8" r="3.6"/><circle cx="485.7" cy="306.7" r="3.6"/><circle cx="487.2" cy="328.2" r="3.6"/><circle cx="488.7" cy="327.7" r="3.6"/><circle cx="490.3" cy="317.6" r="3.6"/><circle cx="491.8" cy="317.5" r="3.6"/><circle cx="493.3" cy="329.3" r="3.6"/><circle cx="494.9" cy="329.4" r="3.6"/><circle cx="496.4" cy="333.5" r="3.6"/><circle cx="497.9" cy="324.0" r="3.6"/><circle cx="499.4" cy="326.5" r="3.6"/><circle cx="501.0" cy="338.6" r="3.6"/><circle cx="502.5" cy="317.2" r="3.6"/><circle cx="504.0" cy="318.2" r="3.6"/><circle cx="505.6" cy="327.7" r="3.6"/><circle cx="507.1" cy="334.3" r="3.6"/><circle cx="508.6" cy="341.9" r="3.6"/><circle cx="510.2" cy="316.7" r="3.6"/><circle cx="511.7" cy="345.5" r="3.6"/><circle cx="513.2" cy="331.9" r="3.6"/><circle cx="514.8" cy="324.0" r="3.6"/><circle cx="516.3" cy="321.8" r="3.6"/><circle cx="517.8" cy="330.8" r="3.6"/><circle cx="519.4" cy="353.0" r="3.6"/><circle cx="520.9" cy="323.4" r="3.6"/><circle cx="522.4" cy="333.6" r="3.6"/><circle cx="524.0" cy="342.0" r="3.6"/><circle cx="525.5" cy="329.2" r="3.6"/><circle cx="527.0" cy="332.0" r="3.6"/><circle cx="528.6" cy="340.6" r="3.6"/><circle cx="530.1" cy="329.0" r="3.6"/><circle cx="531.6" cy="320.1" r="3.6"/><circle cx="533.2" cy="346.9" r="3.6"/><circle cx="534.7" cy="332.3" r="3.6"/><circle cx="536.2" cy="346.0" r="3.6"/><circle cx="537.7" cy="326.7" r="3.6"/><circle cx="539.3" cy="325.7" r="3.6"/><circle cx="540.8" cy="315.3" r="3.6"/><circle cx="542.3" cy="327.7" r="3.6"/><circle cx="543.9" cy="331.0" r="3.6"/><circle cx="545.4" cy="322.0" r="3.6"/><circle cx="546.9" cy="310.4" r="3.6"/><circle cx="548.5" cy="319.5" r="3.6"/><circle cx="550.0" cy="326.8" r="3.6"/><circle cx="551.5" cy="329.4" r="3.6"/><circle cx="553.1" cy="345.9" r="3.6"/><circle cx="554.6" cy="332.2" r="3.6"/><circle cx="556.1" cy="329.4" r="3.6"/><circle cx="557.7" cy="329.5" r="3.6"/><circle cx="559.2" cy="304.9" r="3.6"/><circle cx="560.7" cy="336.6" r="3.6"/><circle cx="562.3" cy="323.0" r="3.6"/><circle cx="563.8" cy="318.0" r="3.6"/><circle cx="565.3" cy="316.8" r="3.6"/><circle cx="566.9" cy="308.6" r="3.6"/><circle cx="568.4" cy="331.9" r="3.6"/><circle cx="569.9" cy="312.3" r="3.6"/><circle cx="571.5" cy="334.3" r="3.6"/><circle cx="573.0" cy="331.3" r="3.6"/><circle cx="574.5" cy="342.0" r="3.6"/><circle cx="576.0" cy="329.3" r="3.6"/><circle cx="577.6" cy="329.7" r="3.6"/><circle cx="579.1" cy="324.5" r="3.6"/><circle cx="580.6" cy="332.6" r="3.6"/><circle cx="582.2" cy="322.5" r="3.6"/><circle cx="583.7" cy="313.9" r="3.6"/><circle cx="585.2" cy="340.6" r="3.6"/><circle cx="586.8" cy="333.4" r="3.6"/><circle cx="588.3" cy="337.2" r="3.6"/><circle cx="589.8" cy="307.8" r="3.6"/><circle cx="591.4" cy="349.5" r="3.6"/><circle cx="592.9" cy="314.9" r="3.6"/></g>
<path d="M136.60,144.50 L137.10,144.50 L137.60,144.50 L138.10,144.50 L138.60,144.50 L139.10,144.50 L139.60,144.50 L140.10,144.50 L140.60,144.50 L141.10,144.50 L141.60,144.50 L142.10,144.50 L142.60,144.50 L143.10,144.50 L143.60,144.50 L144.10,144.50 L144.60,144.50 L145.10,144.50 L145.60,144.51 L146.10,144.53 L146.60,144.58 L147.10,144.64 L147.60,144.71 L148.10,144.80 L148.60,144.90 L149.10,145.00 L149.60,145.11 L150.10,145.22 L150.60,145.33 L151.10,145.45 L151.60,145.56 L152.10,145.66 L152.60,145.78 L153.10,145.89 L153.60,146.02 L154.10,146.15 L154.60,146.28 L155.10,146.42 L155.60,146.56 L156.10,146.71 L156.60,146.86 L157.10,147.02 L157.60,147.18 L158.10,147.34 L158.60,147.51 L159.10,147.67 L159.60,147.84 L160.10,148.02 L160.60,148.19 L161.10,148.37 L161.60,148.54 L162.10,148.72 L162.60,148.90 L163.10,149.08 L163.60,149.26 L164.10,149.44 L164.60,149.62 L165.10,149.80 L165.60,149.98 L166.10,150.16 L166.60,150.35 L167.10,150.54 L167.60,150.73 L168.10,150.92 L168.60,151.12 L169.10,151.32 L169.60,151.52 L170.10,151.73 L170.60,151.94 L171.10,152.15 L171.60,152.36 L172.10,152.57 L172.60,152.79 L173.10,153.01 L173.60,153.23 L174.10,153.46 L174.60,153.70 L175.10,153.94 L175.60,154.19 L176.10,154.43 L176.60,154.69 L177.10,154.94 L177.60,155.20 L178.10,155.45 L178.60,155.71 L179.10,155.96 L179.60,156.22 L180.10,156.47 L180.60,156.72 L181.10,156.96 L181.60,157.20 L182.10,157.44 L182.60,157.67 L183.10,157.90 L183.60,158.14 L184.10,158.37 L184.60,158.60 L185.10,158.82 L185.60,159.05 L186.10,159.28 L186.60,159.51 L187.10,159.73 L187.60,159.96 L188.10,160.18 L188.60,160.40 L189.10,160.63 L189.60,160.85 L190.10,161.07 L190.60,161.29 L191.10,161.51 L191.60,161.73 L192.10,161.95 L192.60,162.17 L193.10,162.39 L193.60,162.61 L194.10,162.83 L194.60,163.05 L195.10,163.27 L195.60,163.49 L196.10,163.71 L196.60,163.94 L197.10,164.16 L197.60,164.38 L198.10,164.60 L198.60,164.82 L199.10,165.04 L199.60,165.27 L200.10,165.49 L200.60,165.71 L201.10,165.94 L201.60,166.16 L202.10,166.39 L202.60,166.61 L203.10,166.83 L203.60,167.06 L204.10,167.28 L204.60,167.50 L205.10,167.72 L205.60,167.95 L206.10,168.17 L206.60,168.39 L207.10,168.61 L207.60,168.83 L208.10,169.05 L208.60,169.27 L209.10,169.49 L209.60,169.71 L210.10,169.92 L210.60,170.14 L211.10,170.35 L211.60,170.57 L212.10,170.78 L212.60,170.99 L213.10,171.20 L213.60,171.41 L214.10,171.62 L214.60,171.83 L215.10,172.04 L215.60,172.24 L216.10,172.45 L216.60,172.66 L217.10,172.86 L217.60,173.07 L218.10,173.27 L218.60,173.48 L219.10,173.68 L219.60,173.89 L220.10,174.09 L220.60,174.29 L221.10,174.49 L221.60,174.69 L222.10,174.89 L222.60,175.09 L223.10,175.29 L223.60,175.49 L224.10,175.69 L224.60,175.88 L225.10,176.08 L225.60,176.27 L226.10,176.47 L226.60,176.66 L227.10,176.85 L227.60,177.04 L228.10,177.23 L228.60,177.42 L229.10,177.61 L229.60,177.80 L230.10,177.99 L230.60,178.17 L231.10,178.36 L231.60,178.54 L232.10,178.73 L232.60,178.91 L233.10,179.10 L233.60,179.28 L234.10,179.46 L234.60,179.64 L235.10,179.82 L235.60,180.01 L236.10,180.18 L236.60,180.36 L237.10,180.54 L237.60,180.72 L238.10,180.90 L238.60,181.07 L239.10,181.25 L239.60,181.42 L240.10,181.59 L240.60,181.77 L241.10,181.94 L241.60,182.11 L242.10,182.28 L242.60,182.45 L243.10,182.61 L243.60,182.78 L244.10,182.95 L244.60,183.11 L245.10,183.28 L245.60,183.44 L246.10,183.60 L246.60,183.76 L247.10,183.92 L247.60,184.08 L248.10,184.24 L248.60,184.40 L249.10,184.55 L249.60,184.71 L250.10,184.86 L250.60,185.02 L251.10,185.17 L251.60,185.33 L252.10,185.48 L252.60,185.63 L253.10,185.78 L253.60,185.93 L254.10,186.08 L254.60,186.23 L255.10,186.38 L255.60,186.53 L256.10,186.67 L256.60,186.82 L257.10,186.96 L257.60,187.11 L258.10,187.25 L258.60,187.39 L259.10,187.53 L259.60,187.67 L260.10,187.81 L260.60,187.95 L261.10,188.09 L261.60,188.23 L262.10,188.36 L262.60,188.50 L263.10,188.63 L263.60,188.77 L264.10,188.90 L264.60,189.03 L265.10,189.16 L265.60,189.30 L266.10,189.43 L266.60,189.55 L267.10,189.68 L267.60,189.81 L268.10,189.94 L268.60,190.06 L269.10,190.19 L269.60,190.31 L270.10,190.43 L270.60,190.55 L271.10,190.67 L271.60,190.80 L272.10,190.91 L272.60,191.03 L273.10,191.15 L273.60,191.27 L274.10,191.38 L274.60,191.50 L275.10,191.62 L275.60,191.73 L276.10,191.85 L276.60,191.96 L277.10,192.08 L277.60,192.20 L278.10,192.32 L278.60,192.43 L279.10,192.55 L279.60,192.67 L280.10,192.79 L280.60,192.90 L281.10,193.02 L281.60,193.14 L282.10,193.26 L282.60,193.37 L283.10,193.49 L283.60,193.60 L284.10,193.72 L284.60,193.83 L285.10,193.95 L285.60,194.06 L286.10,194.18 L286.60,194.29 L287.10,194.40 L287.60,194.51 L288.10,194.62 L288.60,194.73 L289.10,194.84 L289.60,194.94 L290.10,195.05 L290.60,195.15 L291.10,195.25 L291.60,195.35 L292.10,195.45 L292.60,195.55 L293.10,195.65 L293.60,195.75 L294.10,195.84 L294.60,195.93 L295.10,196.02 L295.60,196.11 L296.10,196.20 L296.60,196.28 L297.10,196.36 L297.60,196.44 L298.10,196.52 L298.60,196.60 L299.10,196.67 L299.60,196.74 L300.10,196.81 L300.60,196.88 L301.10,196.95 L301.60,197.01 L302.10,197.07 L302.60,197.14 L303.10,197.20 L303.60,197.25 L304.10,197.31 L304.60,197.37 L305.10,197.42 L305.60,197.48 L306.10,197.53 L306.60,197.58 L307.10,197.64 L307.60,197.69 L308.10,197.74 L308.60,197.79 L309.10,197.84 L309.60,197.89 L310.10,197.93 L310.60,197.98 L311.10,198.03 L311.60,198.08 L312.10,198.13 L312.60,198.17 L313.10,198.22 L313.60,198.27 L314.10,198.32 L314.60,198.36 L315.10,198.41 L315.60,198.46 L316.10,198.51 L316.60,198.56 L317.10,198.61 L317.60,198.66 L318.10,198.71 L318.60,198.75 L319.10,198.80 L319.60,198.85 L320.10,198.90 L320.60,198.94 L321.10,198.99 L321.60,199.04 L322.10,199.08 L322.60,199.13 L323.10,199.18 L323.60,199.22 L324.10,199.27 L324.60,199.31 L325.10,199.36 L325.60,199.41 L326.10,199.45 L326.60,199.50 L327.10,199.54 L327.60,199.58 L328.10,199.63 L328.60,199.67 L329.10,199.72 L329.60,199.76 L330.10,199.80 L330.60,199.85 L331.10,199.89 L331.60,199.93 L332.10,199.98 L332.60,200.02 L333.10,200.07 L333.60,200.11 L334.10,200.16 L334.60,200.20 L335.10,200.25 L335.60,200.29 L336.10,200.34 L336.60,200.38 L337.10,200.43 L337.60,200.47 L338.10,200.52 L338.60,200.56 L339.10,200.61 L339.60,200.66 L340.10,200.70 L340.60,200.75 L341.10,200.79 L341.60,200.84 L342.10,200.89 L342.60,200.93 L343.10,200.98 L343.60,201.02 L344.10,201.07 L344.60,201.11 L345.10,201.16 L345.60,201.20 L346.10,201.24 L346.60,201.29 L347.10,201.33 L347.60,201.37 L348.10,201.42 L348.60,201.46 L349.10,201.50 L349.60,201.54 L350.10,201.58 L350.60,201.63 L351.10,201.67 L351.60,201.71 L352.10,201.74 L352.60,201.78 L353.10,201.82 L353.60,201.86 L354.10,201.90 L354.60,201.93 L355.10,201.97 L355.60,202.00 L356.10,202.04 L356.60,202.07 L357.10,202.10 L357.60,202.13 L358.10,202.17 L358.60,202.20 L359.10,202.23 L359.60,202.26 L360.10,202.28 L360.60,202.31 L361.10,202.34 L361.60,202.36 L362.10,202.39 L362.60,202.41 L363.10,202.43 L363.60,202.46 L364.10,202.48 L364.60,202.50 L365.10,202.52 L365.60,202.55 L366.10,202.57 L366.60,202.59 L367.10,202.61 L367.60,202.63 L368.10,202.66 L368.60,202.68 L369.10,202.70 L369.60,202.72 L370.10,202.74 L370.60,202.76 L371.10,202.78 L371.60,202.81 L372.10,202.83 L372.60,202.85 L373.10,202.87 L373.60,202.89 L374.10,202.91 L374.60,202.93 L375.10,202.95 L375.60,202.97 L376.10,202.99 L376.60,203.01 L377.10,203.03 L377.60,203.05 L378.10,203.07 L378.60,203.09 L379.10,203.10 L379.60,203.12 L380.10,203.14 L380.60,203.16 L381.10,203.18 L381.60,203.20 L382.10,203.22 L382.60,203.23 L383.10,203.25 L383.60,203.27 L384.10,203.29 L384.60,203.30 L385.10,203.32 L385.60,203.34 L386.10,203.36 L386.60,203.37 L387.10,203.39 L387.60,203.41 L388.10,203.42 L388.60,203.44 L389.10,203.46 L389.60,203.47 L390.10,203.49 L390.60,203.51 L391.10,203.52 L391.60,203.54 L392.10,203.55 L392.60,203.57 L393.10,203.58 L393.60,203.60 L394.10,203.61 L394.60,203.63 L395.10,203.64 L395.60,203.66 L396.10,203.67 L396.60,203.69 L397.10,203.70 L397.60,203.72 L398.10,203.73 L398.60,203.75 L399.10,203.76 L399.60,203.77 L400.10,203.79 L400.60,203.80 L401.10,203.81 L401.60,203.83 L402.10,203.84 L402.60,203.85 L403.10,203.87 L403.60,203.88 L404.10,203.89 L404.60,203.90 L405.10,203.92 L405.60,203.93 L406.10,203.94 L406.60,203.95 L407.10,203.96 L407.60,203.98 L408.10,203.99 L408.60,204.00 L409.10,204.01 L409.60,204.02 L410.10,204.03 L410.60,204.04 L411.10,204.05 L411.60,204.06 L412.10,204.08 L412.60,204.09 L413.10,204.10 L413.60,204.11 L414.10,204.12 L414.60,204.13 L415.10,204.14 L415.60,204.15 L416.10,204.16 L416.60,204.16 L417.10,204.17 L417.60,204.18 L418.10,204.19 L418.60,204.20 L419.10,204.21 L419.60,204.22 L420.10,204.23 L420.60,204.24 L421.10,204.24 L421.60,204.25 L422.10,204.26 L422.60,204.27 L423.10,204.28 L423.60,204.28 L424.10,204.29 L424.60,204.30 L425.10,204.31 L425.60,204.31 L426.10,204.32 L426.60,204.33 L427.10,204.34 L427.60,204.34 L428.10,204.35 L428.60,204.36 L429.10,204.36 L429.60,204.37 L430.10,204.38 L430.60,204.39 L431.10,204.39 L431.60,204.40 L432.10,204.41 L432.60,204.41 L433.10,204.42 L433.60,204.43 L434.10,204.44 L434.60,204.44 L435.10,204.45 L435.60,204.46 L436.10,204.46 L436.60,204.47 L437.10,204.48 L437.60,204.49 L438.10,204.49 L438.60,204.50 L439.10,204.51 L439.60,204.51 L440.10,204.52 L440.60,204.53 L441.10,204.53 L441.60,204.54 L442.10,204.55 L442.60,204.55 L443.10,204.56 L443.60,204.57 L444.10,204.57 L444.60,204.58 L445.10,204.59 L445.60,204.59 L446.10,204.60 L446.60,204.60 L447.10,204.61 L447.60,204.62 L448.10,204.62 L448.60,204.63 L449.10,204.64 L449.60,204.64 L450.10,204.65 L450.60,204.65 L451.10,204.66 L451.60,204.67 L452.10,204.67 L452.60,204.68 L453.10,204.68 L453.60,204.69 L454.10,204.69 L454.60,204.70 L455.10,204.71 L455.60,204.71 L456.10,204.72 L456.60,204.72 L457.10,204.73 L457.60,204.73 L458.10,204.74 L458.60,204.74 L459.10,204.75 L459.60,204.75 L460.10,204.76 L460.60,204.76 L461.10,204.77 L461.60,204.77 L462.10,204.78 L462.60,204.78 L463.10,204.79 L463.60,204.79 L464.10,204.79 L464.60,204.80 L465.10,204.80 L465.60,204.81 L466.10,204.81 L466.60,204.81 L467.10,204.82 L467.60,204.82 L468.10,204.83 L468.60,204.83 L469.10,204.83 L469.60,204.84 L470.10,204.84 L470.60,204.84 L471.10,204.85 L471.60,204.85 L472.10,204.85 L472.60,204.86 L473.10,204.86 L473.60,204.86 L474.10,204.86 L474.60,204.87 L475.10,204.87 L475.60,204.87 L476.10,204.87 L476.60,204.88 L477.10,204.88 L477.60,204.88 L478.10,204.88 L478.60,204.88 L479.10,204.89 L479.60,204.89 L480.10,204.89 L480.60,204.89 L481.10,204.89 L481.60,204.89 L482.10,204.89 L482.60,204.90 L483.10,204.90 L483.60,204.90 L484.10,204.90 L484.60,204.90 L485.10,204.90 L485.60,204.90 L486.10,204.90 L486.60,204.90 L487.10,204.90 L487.60,204.90 L488.10,204.90 L488.60,204.90 L489.10,204.90 L489.60,204.89 L490.10,204.89 L490.60,204.89 L491.10,204.89 L491.60,204.88 L492.10,204.88 L492.60,204.87 L493.10,204.87 L493.60,204.86 L494.10,204.86 L494.60,204.85 L495.10,204.85 L495.60,204.84 L496.10,204.83 L496.60,204.82 L497.10,204.82 L497.60,204.81 L498.10,204.80 L498.60,204.79 L499.10,204.78 L499.60,204.77 L500.10,204.76 L500.60,204.75 L501.10,204.74 L501.60,204.73 L502.10,204.72 L502.60,204.71 L503.10,204.70 L503.60,204.68 L504.10,204.67 L504.60,204.66 L505.10,204.65 L505.60,204.63 L506.10,204.62 L506.60,204.60 L507.10,204.59 L507.60,204.58 L508.10,204.56 L508.60,204.55 L509.10,204.53 L509.60,204.52 L510.10,204.50 L510.60,204.49 L511.10,204.47 L511.60,204.45 L512.10,204.44 L512.60,204.42 L513.10,204.40 L513.60,204.39 L514.10,204.37 L514.60,204.35 L515.10,204.34 L515.60,204.32 L516.10,204.30 L516.60,204.28 L517.10,204.26 L517.60,204.25 L518.10,204.23 L518.60,204.21 L519.10,204.19 L519.60,204.17 L520.10,204.15 L520.60,204.13 L521.10,204.11 L521.60,204.10 L522.10,204.08 L522.60,204.06 L523.10,204.04 L523.60,204.02 L524.10,204.00 L524.60,203.98 L525.10,203.96 L525.60,203.94 L526.10,203.92 L526.60,203.90 L527.10,203.88 L527.60,203.86 L528.10,203.84 L528.60,203.82 L529.10,203.80 L529.60,203.78 L530.10,203.76 L530.60,203.74 L531.10,203.72 L531.60,203.70 L532.10,203.67 L532.60,203.65 L533.10,203.63 L533.60,203.61 L534.10,203.59 L534.60,203.57 L535.10,203.55 L535.60,203.53 L536.10,203.51 L536.60,203.49 L537.10,203.47 L537.60,203.45 L538.10,203.43 L538.60,203.41 L539.10,203.39 L539.60,203.37 L540.10,203.35 L540.60,203.33 L541.10,203.31 L541.60,203.29 L542.10,203.27 L542.60,203.25 L543.10,203.23 L543.60,203.22 L544.10,203.20 L544.60,203.18 L545.10,203.16 L545.60,203.14 L546.10,203.12 L546.60,203.10 L547.10,203.09 L547.60,203.07 L548.10,203.05 L548.60,203.03 L549.10,203.01 L549.60,203.00 L550.10,202.98 L550.60,202.96 L551.10,202.94 L551.60,202.93 L552.10,202.91 L552.60,202.89 L553.10,202.87 L553.60,202.86 L554.10,202.84 L554.60,202.82 L555.10,202.80 L555.60,202.78 L556.10,202.77 L556.60,202.75 L557.10,202.73 L557.60,202.71 L558.10,202.69 L558.60,202.67 L559.10,202.65 L559.60,202.64 L560.10,202.62 L560.60,202.60 L561.10,202.58 L561.60,202.56 L562.10,202.54 L562.60,202.52 L563.10,202.50 L563.60,202.49 L564.10,202.47 L564.60,202.45 L565.10,202.43 L565.60,202.41 L566.10,202.39 L566.60,202.37 L567.10,202.35 L567.60,202.33 L568.10,202.31 L568.60,202.29 L569.10,202.27 L569.60,202.25 L570.10,202.23 L570.60,202.21 L571.10,202.19 L571.60,202.17 L572.10,202.15 L572.60,202.13 L573.10,202.11 L573.60,202.09 L574.10,202.07 L574.60,202.05 L575.10,202.03 L575.60,202.01 L576.10,201.99 L576.60,201.97 L577.10,201.95 L577.60,201.93 L578.10,201.91 L578.60,201.89 L579.10,201.87 L579.60,201.85 L580.10,201.83 L580.60,201.81 L581.10,201.78 L581.60,201.76 L582.10,201.74 L582.60,201.72 L583.10,201.70 L583.60,201.68 L584.10,201.66 L584.60,201.64 L585.10,201.62 L585.60,201.60 L586.10,201.57 L586.60,201.55 L587.10,201.53 L587.60,201.51 L588.10,201.49 L588.60,201.47 L589.10,201.45 L589.60,201.42 L590.10,201.40 L590.60,201.38 L591.10,201.36 L591.60,201.34 L592.10,201.32" fill="none" stroke="#e00000" stroke-width="2.4" clip-path="url(#cu)"/>
<path d="M136.50,93.90 L137.00,97.37 L137.50,100.82 L138.00,104.24 L138.50,107.64 L139.00,111.02 L139.50,114.37 L140.00,117.75 L140.50,121.15 L141.00,124.54 L141.50,127.89 L142.00,131.17 L142.50,134.33 L143.00,137.34 L143.50,140.19 L144.00,142.84 L144.50,145.27 L145.00,147.56 L145.50,149.78 L146.00,151.93 L146.50,154.00 L147.00,155.98 L147.50,157.86 L148.00,159.64 L148.50,161.30 L149.00,162.88 L149.50,164.42 L150.00,165.90 L150.50,167.33 L151.00,168.70 L151.50,170.00 L152.00,171.24 L152.50,172.40 L153.00,173.49 L153.50,174.50 L154.00,175.46 L154.50,176.39 L155.00,177.29 L155.50,178.15 L156.00,178.97 L156.50,179.73 L157.00,180.43 L157.50,181.06 L158.00,181.61 L158.50,182.09 L159.00,182.52 L159.50,182.92 L160.00,183.29 L160.50,183.64 L161.00,183.97 L161.50,184.28 L162.00,184.58 L162.50,184.85 L163.00,185.12 L163.50,185.37 L164.00,185.60 L164.50,185.83 L165.00,186.06 L165.50,186.28 L166.00,186.51 L166.50,186.75 L167.00,186.98 L167.50,187.20 L168.00,187.39 L168.50,187.56 L169.00,187.69 L169.50,187.77 L170.00,187.80 L170.50,187.80 L171.00,187.78 L171.50,187.76 L172.00,187.73 L172.50,187.70 L173.00,187.66 L173.50,187.61 L174.00,187.56 L174.50,187.51 L175.00,187.45 L175.50,187.39 L176.00,187.32 L176.50,187.25 L177.00,187.18 L177.50,187.11 L178.00,187.04 L178.50,186.97 L179.00,186.88 L179.50,186.78 L180.00,186.66 L180.50,186.53 L181.00,186.38 L181.50,186.23 L182.00,186.08 L182.50,185.92 L183.00,185.76 L183.50,185.60 L184.00,185.45 L184.50,185.30 L185.00,185.16 L185.50,185.02 L186.00,184.90 L186.50,184.80 L187.00,184.70 L187.50,184.61 L188.00,184.51 L188.50,184.42 L189.00,184.33 L189.50,184.24 L190.00,184.15 L190.50,184.06 L191.00,183.98 L191.50,183.90 L192.00,183.82 L192.50,183.74 L193.00,183.66 L193.50,183.59 L194.00,183.52 L194.50,183.46 L195.00,183.40 L195.50,183.34 L196.00,183.28 L196.50,183.23 L197.00,183.19 L197.50,183.14 L198.00,183.11 L198.50,183.07 L199.00,183.04 L199.50,183.01 L200.00,182.97 L200.50,182.94 L201.00,182.91 L201.50,182.88 L202.00,182.85 L202.50,182.82 L203.00,182.80 L203.50,182.77 L204.00,182.74 L204.50,182.72 L205.00,182.69 L205.50,182.67 L206.00,182.65 L206.50,182.63 L207.00,182.61 L207.50,182.59 L208.00,182.58 L208.50,182.56 L209.00,182.55 L209.50,182.54 L210.00,182.53 L210.50,182.52 L211.00,182.51 L211.50,182.50 L212.00,182.50 L212.50,182.50 L213.00,182.49 L213.50,182.49 L214.00,182.49 L214.50,182.49 L215.00,182.48 L215.50,182.48 L216.00,182.48 L216.50,182.48 L217.00,182.47 L217.50,182.47 L218.00,182.47 L218.50,182.47 L219.00,182.46 L219.50,182.46 L220.00,182.46 L220.50,182.46 L221.00,182.45 L221.50,182.45 L222.00,182.45 L222.50,182.45 L223.00,182.44 L223.50,182.44 L224.00,182.44 L224.50,182.44 L225.00,182.44 L225.50,182.43 L226.00,182.43 L226.50,182.43 L227.00,182.43 L227.50,182.43 L228.00,182.42 L228.50,182.42 L229.00,182.42 L229.50,182.42 L230.00,182.42 L230.50,182.41 L231.00,182.41 L231.50,182.41 L232.00,182.41 L232.50,182.41 L233.00,182.40 L233.50,182.40 L234.00,182.40 L234.50,182.40 L235.00,182.40 L235.50,182.40 L236.00,182.39 L236.50,182.39 L237.00,182.39 L237.50,182.39 L238.00,182.39 L238.50,182.39 L239.00,182.38 L239.50,182.38 L240.00,182.38 L240.50,182.38 L241.00,182.38 L241.50,182.38 L242.00,182.37 L242.50,182.37 L243.00,182.37 L243.50,182.37 L244.00,182.37 L244.50,182.37 L245.00,182.37 L245.50,182.36 L246.00,182.36 L246.50,182.36 L247.00,182.36 L247.50,182.36 L248.00,182.36 L248.50,182.36 L249.00,182.36 L249.50,182.35 L250.00,182.35 L250.50,182.35 L251.00,182.35 L251.50,182.35 L252.00,182.35 L252.50,182.35 L253.00,182.35 L253.50,182.34 L254.00,182.34 L254.50,182.34 L255.00,182.34 L255.50,182.34 L256.00,182.34 L256.50,182.34 L257.00,182.34 L257.50,182.34 L258.00,182.34 L258.50,182.33 L259.00,182.33 L259.50,182.33 L260.00,182.33 L260.50,182.33 L261.00,182.33 L261.50,182.33 L262.00,182.33 L262.50,182.33 L263.00,182.33 L263.50,182.33 L264.00,182.32 L264.50,182.32 L265.00,182.32 L265.50,182.32 L266.00,182.32 L266.50,182.32 L267.00,182.32 L267.50,182.32 L268.00,182.32 L268.50,182.32 L269.00,182.32 L269.50,182.32 L270.00,182.32 L270.50,182.32 L271.00,182.32 L271.50,182.31 L272.00,182.31 L272.50,182.31 L273.00,182.31 L273.50,182.31 L274.00,182.31 L274.50,182.31 L275.00,182.31 L275.50,182.31 L276.00,182.31 L276.50,182.31 L277.00,182.31 L277.50,182.31 L278.00,182.31 L278.50,182.31 L279.00,182.31 L279.50,182.31 L280.00,182.31 L280.50,182.31 L281.00,182.31 L281.50,182.31 L282.00,182.31 L282.50,182.31 L283.00,182.30 L283.50,182.30 L284.00,182.30 L284.50,182.30 L285.00,182.30 L285.50,182.30 L286.00,182.30 L286.50,182.30 L287.00,182.30 L287.50,182.30 L288.00,182.30 L288.50,182.30 L289.00,182.30 L289.50,182.30 L290.00,182.30 L290.50,182.30 L291.00,182.30 L291.50,182.30 L292.00,182.30 L292.50,182.30 L293.00,182.30 L293.50,182.30 L294.00,182.30 L294.50,182.30 L295.00,182.30 L295.50,182.30 L296.00,182.30 L296.50,182.30 L297.00,182.30 L297.50,182.30 L298.00,182.30 L298.50,182.30 L299.00,182.30 L299.50,182.30 L300.00,182.30 L300.50,182.30 L301.00,182.30 L301.50,182.30 L302.00,182.30 L302.50,182.30 L303.00,182.30 L303.50,182.30 L304.00,182.30 L304.50,182.30 L305.00,182.30 L305.50,182.30 L306.00,182.30 L306.50,182.30 L307.00,182.30 L307.50,182.30 L308.00,182.30 L308.50,182.30 L309.00,182.30 L309.50,182.30 L310.00,182.30 L310.50,182.30 L311.00,182.30 L311.50,182.30 L312.00,182.30 L312.50,182.30 L313.00,182.30 L313.50,182.30 L314.00,182.30 L314.50,182.30 L315.00,182.30 L315.50,182.30 L316.00,182.30 L316.50,182.30 L317.00,182.30 L317.50,182.30 L318.00,182.30 L318.50,182.30 L319.00,182.30 L319.50,182.30 L320.00,182.30 L320.50,182.30 L321.00,182.30 L321.50,182.30 L322.00,182.30 L322.50,182.30 L323.00,182.30 L323.50,182.30 L324.00,182.30 L324.50,182.30 L325.00,182.30 L325.50,182.30 L326.00,182.30 L326.50,182.30 L327.00,182.30 L327.50,182.30 L328.00,182.30 L328.50,182.30 L329.00,182.30 L329.50,182.30 L330.00,182.30 L330.50,182.30 L331.00,182.30 L331.50,182.30 L332.00,182.30 L332.50,182.30 L333.00,182.30 L333.50,182.30 L334.00,182.30 L334.50,182.30 L335.00,182.30 L335.50,182.30 L336.00,182.30 L336.50,182.30 L337.00,182.30 L337.50,182.30 L338.00,182.30 L338.50,182.30 L339.00,182.30 L339.50,182.30 L340.00,182.30 L340.50,182.30 L341.00,182.30 L341.50,182.30 L342.00,182.30 L342.50,182.30 L343.00,182.30 L343.50,182.30 L344.00,182.30 L344.50,182.30 L345.00,182.30 L345.50,182.30 L346.00,182.30 L346.50,182.30 L347.00,182.30 L347.50,182.30 L348.00,182.30 L348.50,182.30 L349.00,182.30 L349.50,182.30 L350.00,182.30 L350.50,182.30 L351.00,182.30 L351.50,182.30 L352.00,182.30 L352.50,182.30 L353.00,182.30 L353.50,182.30 L354.00,182.30 L354.50,182.30 L355.00,182.30 L355.50,182.30 L356.00,182.30 L356.50,182.30 L357.00,182.30 L357.50,182.30 L358.00,182.30 L358.50,182.30 L359.00,182.30 L359.50,182.30 L360.00,182.30 L360.50,182.30 L361.00,182.30 L361.50,182.30 L362.00,182.30 L362.50,182.30 L363.00,182.30 L363.50,182.30 L364.00,182.30 L364.50,182.30 L365.00,182.30 L365.50,182.30 L366.00,182.30 L366.50,182.30 L367.00,182.30 L367.50,182.30 L368.00,182.30 L368.50,182.30 L369.00,182.30 L369.50,182.30 L370.00,182.30 L370.50,182.30 L371.00,182.30 L371.50,182.30 L372.00,182.30 L372.50,182.30 L373.00,182.30 L373.50,182.30 L374.00,182.30 L374.50,182.30 L375.00,182.30 L375.50,182.30 L376.00,182.30 L376.50,182.30 L377.00,182.30 L377.50,182.30 L378.00,182.30 L378.50,182.30 L379.00,182.30 L379.50,182.30 L380.00,182.30 L380.50,182.30 L381.00,182.30 L381.50,182.30 L382.00,182.30 L382.50,182.30 L383.00,182.30 L383.50,182.30 L384.00,182.30 L384.50,182.30 L385.00,182.30 L385.50,182.30 L386.00,182.30 L386.50,182.30 L387.00,182.30 L387.50,182.30 L388.00,182.30 L388.50,182.30 L389.00,182.30 L389.50,182.30 L390.00,182.30 L390.50,182.30 L391.00,182.30 L391.50,182.30 L392.00,182.30 L392.50,182.30 L393.00,182.30 L393.50,182.30 L394.00,182.30 L394.50,182.30 L395.00,182.30 L395.50,182.30 L396.00,182.30 L396.50,182.30 L397.00,182.30 L397.50,182.30 L398.00,182.30 L398.50,182.30 L399.00,182.30 L399.50,182.30 L400.00,182.30 L400.50,182.30 L401.00,182.30 L401.50,182.30 L402.00,182.30 L402.50,182.30 L403.00,182.30 L403.50,182.30 L404.00,182.30 L404.50,182.30 L405.00,182.30 L405.50,182.30 L406.00,182.30 L406.50,182.30 L407.00,182.30 L407.50,182.30 L408.00,182.30 L408.50,182.30 L409.00,182.30 L409.50,182.30 L410.00,182.30 L410.50,182.30 L411.00,182.30 L411.50,182.30 L412.00,182.30 L412.50,182.30 L413.00,182.30 L413.50,182.30 L414.00,182.30 L414.50,182.30 L415.00,182.30 L415.50,182.30 L416.00,182.30 L416.50,182.30 L417.00,182.30 L417.50,182.30 L418.00,182.30 L418.50,182.30 L419.00,182.30 L419.50,182.30 L420.00,182.30 L420.50,182.30 L421.00,182.30 L421.50,182.30 L422.00,182.30 L422.50,182.30 L423.00,182.30 L423.50,182.30 L424.00,182.30 L424.50,182.30 L425.00,182.30 L425.50,182.30 L426.00,182.30 L426.50,182.30 L427.00,182.30 L427.50,182.30 L428.00,182.30 L428.50,182.30 L429.00,182.30 L429.50,182.30 L430.00,182.30 L430.50,182.30 L431.00,182.30 L431.50,182.30 L432.00,182.30 L432.50,182.30 L433.00,182.30 L433.50,182.30 L434.00,182.30 L434.50,182.30 L435.00,182.30 L435.50,182.30 L436.00,182.30 L436.50,182.30 L437.00,182.30 L437.50,182.30 L438.00,182.30 L438.50,182.30 L439.00,182.30 L439.50,182.30 L440.00,182.30 L440.50,182.30 L441.00,182.30 L441.50,182.30 L442.00,182.30 L442.50,182.30 L443.00,182.30 L443.50,182.30 L444.00,182.30 L444.50,182.30 L445.00,182.30 L445.50,182.30 L446.00,182.30 L446.50,182.30 L447.00,182.30 L447.50,182.30 L448.00,182.30 L448.50,182.30 L449.00,182.30 L449.50,182.30 L450.00,182.30 L450.50,182.30 L451.00,182.30 L451.50,182.30 L452.00,182.30 L452.50,182.30 L453.00,182.30 L453.50,182.30 L454.00,182.30 L454.50,182.30 L455.00,182.30 L455.50,182.30 L456.00,182.30 L456.50,182.30 L457.00,182.30 L457.50,182.30 L458.00,182.30 L458.50,182.30 L459.00,182.30 L459.50,182.30 L460.00,182.30 L460.50,182.30 L461.00,182.30 L461.50,182.30 L462.00,182.30 L462.50,182.30 L463.00,182.30 L463.50,182.30 L464.00,182.30 L464.50,182.30 L465.00,182.30 L465.50,182.30 L466.00,182.30 L466.50,182.30 L467.00,182.30 L467.50,182.30 L468.00,182.30 L468.50,182.30 L469.00,182.30 L469.50,182.30 L470.00,182.30 L470.50,182.30 L471.00,182.30 L471.50,182.30 L472.00,182.30 L472.50,182.30 L473.00,182.30 L473.50,182.30 L474.00,182.30 L474.50,182.30 L475.00,182.30 L475.50,182.30 L476.00,182.30 L476.50,182.30 L477.00,182.30 L477.50,182.30 L478.00,182.30 L478.50,182.30 L479.00,182.30 L479.50,182.30 L480.00,182.30 L480.50,182.30 L481.00,182.30 L481.50,182.30 L482.00,182.30 L482.50,182.30 L483.00,182.30 L483.50,182.30 L484.00,182.30 L484.50,182.30 L485.00,182.30 L485.50,182.30 L486.00,182.30 L486.50,182.30 L487.00,182.30 L487.50,182.30 L488.00,182.30 L488.50,182.30 L489.00,182.30 L489.50,182.30 L490.00,182.30 L490.50,182.30 L491.00,182.30 L491.50,182.30 L492.00,182.30 L492.50,182.30 L493.00,182.30 L493.50,182.30 L494.00,182.30 L494.50,182.30 L495.00,182.30 L495.50,182.30 L496.00,182.30 L496.50,182.30 L497.00,182.30 L497.50,182.30 L498.00,182.30 L498.50,182.30 L499.00,182.30 L499.50,182.30 L500.00,182.30 L500.50,182.30 L501.00,182.30 L501.50,182.30 L502.00,182.30 L502.50,182.30 L503.00,182.30 L503.50,182.30 L504.00,182.30 L504.50,182.30 L505.00,182.30 L505.50,182.30 L506.00,182.30 L506.50,182.30 L507.00,182.30 L507.50,182.30 L508.00,182.30 L508.50,182.30 L509.00,182.30 L509.50,182.30 L510.00,182.30 L510.50,182.30 L511.00,182.30 L511.50,182.30 L512.00,182.30 L512.50,182.30 L513.00,182.30 L513.50,182.30 L514.00,182.30 L514.50,182.30 L515.00,182.30 L515.50,182.30 L516.00,182.30 L516.50,182.30 L517.00,182.30 L517.50,182.30 L518.00,182.30 L518.50,182.30 L519.00,182.30 L519.50,182.30 L520.00,182.30 L520.50,182.30 L521.00,182.30 L521.50,182.30 L522.00,182.30 L522.50,182.30 L523.00,182.30 L523.50,182.30 L524.00,182.30 L524.50,182.30 L525.00,182.30 L525.50,182.30 L526.00,182.30 L526.50,182.30 L527.00,182.30 L527.50,182.30 L528.00,182.30 L528.50,182.30 L529.00,182.30 L529.50,182.30 L530.00,182.30 L530.50,182.30 L531.00,182.30 L531.50,182.30 L532.00,182.30 L532.50,182.30 L533.00,182.30 L533.50,182.30 L534.00,182.30 L534.50,182.30 L535.00,182.30 L535.50,182.30 L536.00,182.30 L536.50,182.30 L537.00,182.30 L537.50,182.30 L538.00,182.30 L538.50,182.30 L539.00,182.30 L539.50,182.30 L540.00,182.30 L540.50,182.30 L541.00,182.30 L541.50,182.30 L542.00,182.30 L542.50,182.30 L543.00,182.30 L543.50,182.30 L544.00,182.30 L544.50,182.30 L545.00,182.30 L545.50,182.30 L546.00,182.30 L546.50,182.30 L547.00,182.30 L547.50,182.30 L548.00,182.30 L548.50,182.30 L549.00,182.30 L549.50,182.30 L550.00,182.30 L550.50,182.30 L551.00,182.30 L551.50,182.30 L552.00,182.30 L552.50,182.30 L553.00,182.30 L553.50,182.30 L554.00,182.30 L554.50,182.30 L555.00,182.30 L555.50,182.30 L556.00,182.30 L556.50,182.30 L557.00,182.30 L557.50,182.30 L558.00,182.30 L558.50,182.30 L559.00,182.30 L559.50,182.30 L560.00,182.30 L560.50,182.30 L561.00,182.30 L561.50,182.30 L562.00,182.30 L562.50,182.30 L563.00,182.30 L563.50,182.30 L564.00,182.30 L564.50,182.30 L565.00,182.30 L565.50,182.30 L566.00,182.30 L566.50,182.30 L567.00,182.30 L567.50,182.30 L568.00,182.30 L568.50,182.30 L569.00,182.30 L569.50,182.30 L570.00,182.30 L570.50,182.30 L571.00,182.30 L571.50,182.30 L572.00,182.30 L572.50,182.30 L573.00,182.30 L573.50,182.30 L574.00,182.30 L574.50,182.30 L575.00,182.30 L575.50,182.30 L576.00,182.30 L576.50,182.30 L577.00,182.30 L577.50,182.30 L578.00,182.30 L578.50,182.30 L579.00,182.30 L579.50,182.30 L580.00,182.30 L580.50,182.30 L581.00,182.30 L581.50,182.30 L582.00,182.30 L582.50,182.30 L583.00,182.30 L583.50,182.30 L584.00,182.30 L584.50,182.30 L585.00,182.30 L585.50,182.30 L586.00,182.30 L586.50,182.30 L587.00,182.30 L587.50,182.30 L588.00,182.30 L588.50,182.30 L589.00,182.30 L589.50,182.30 L590.00,182.30 L590.50,182.30 L591.00,182.30 L591.50,182.30 L592.00,182.30 L592.50,182.30" fill="none" stroke="#008000" stroke-width="2.3" clip-path="url(#cu)"/>
<path d="M137.00,29.30 L137.50,32.53 L138.00,35.80 L138.50,39.11 L139.00,42.48 L139.50,45.86 L140.00,49.26 L140.50,52.73 L141.00,56.28 L141.50,59.95 L142.00,63.90 L142.50,68.04 L143.00,72.18 L143.50,76.12 L144.00,79.68 L144.50,82.98 L145.00,86.13 L145.50,89.10 L146.00,91.86 L146.50,94.39 L147.00,96.77 L147.50,99.03 L148.00,101.17 L148.50,103.15 L149.00,104.97 L149.50,106.62 L150.00,108.15 L150.50,109.62 L151.00,111.00 L151.50,112.28 L152.00,113.47 L152.50,114.55 L153.00,115.52 L153.50,116.39 L154.00,117.19 L154.50,117.94 L155.00,118.63 L155.50,119.27 L156.00,119.86 L156.50,120.40 L157.00,120.89 L157.50,121.36 L158.00,121.81 L158.50,122.24 L159.00,122.65 L159.50,123.05 L160.00,123.42 L160.50,123.79 L161.00,124.13 L161.50,124.47 L162.00,124.79 L162.50,125.10 L163.00,125.41 L163.50,125.70 L164.00,125.99 L164.50,126.27 L165.00,126.54 L165.50,126.80 L166.00,127.05 L166.50,127.29 L167.00,127.53 L167.50,127.76 L168.00,127.99 L168.50,128.20 L169.00,128.42 L169.50,128.63 L170.00,128.84 L170.50,129.05 L171.00,129.25 L171.50,129.46 L172.00,129.67 L172.50,129.87 L173.00,130.08 L173.50,130.30 L174.00,130.51 L174.50,130.73 L175.00,130.96 L175.50,131.18 L176.00,131.40 L176.50,131.63 L177.00,131.85 L177.50,132.07 L178.00,132.29 L178.50,132.50 L179.00,132.71 L179.50,132.91 L180.00,133.10 L180.50,133.29 L181.00,133.46 L181.50,133.64 L182.00,133.81 L182.50,133.97 L183.00,134.13 L183.50,134.29 L184.00,134.45 L184.50,134.60 L185.00,134.75 L185.50,134.90 L186.00,135.05 L186.50,135.20 L187.00,135.35 L187.50,135.50 L188.00,135.66 L188.50,135.81 L189.00,135.97 L189.50,136.13 L190.00,136.30 L190.50,136.46 L191.00,136.64 L191.50,136.82 L192.00,137.00 L192.50,137.19 L193.00,137.40 L193.50,137.61 L194.00,137.82 L194.50,138.04 L195.00,138.26 L195.50,138.48 L196.00,138.69 L196.50,138.90 L197.00,139.11 L197.50,139.31 L198.00,139.51 L198.50,139.72 L199.00,139.92 L199.50,140.12 L200.00,140.32 L200.50,140.52 L201.00,140.72 L201.50,140.92 L202.00,141.12 L202.50,141.32 L203.00,141.52 L203.50,141.71 L204.00,141.91 L204.50,142.11 L205.00,142.31 L205.50,142.50 L206.00,142.70 L206.50,142.90 L207.00,143.09 L207.50,143.29 L208.00,143.48 L208.50,143.68 L209.00,143.88 L209.50,144.07 L210.00,144.27 L210.50,144.47 L211.00,144.67 L211.50,144.86 L212.00,145.06 L212.50,145.26 L213.00,145.46 L213.50,145.66 L214.00,145.86 L214.50,146.06 L215.00,146.26 L215.50,146.47 L216.00,146.67 L216.50,146.87 L217.00,147.08 L217.50,147.28 L218.00,147.48 L218.50,147.69 L219.00,147.89 L219.50,148.10 L220.00,148.30 L220.50,148.50 L221.00,148.71 L221.50,148.91 L222.00,149.11 L222.50,149.32 L223.00,149.52 L223.50,149.72 L224.00,149.92 L224.50,150.12 L225.00,150.32 L225.50,150.52 L226.00,150.72 L226.50,150.91 L227.00,151.11 L227.50,151.30 L228.00,151.49 L228.50,151.68 L229.00,151.87 L229.50,152.06 L230.00,152.25 L230.50,152.44 L231.00,152.62 L231.50,152.81 L232.00,152.99 L232.50,153.18 L233.00,153.36 L233.50,153.55 L234.00,153.73 L234.50,153.92 L235.00,154.10 L235.50,154.28 L236.00,154.46 L236.50,154.64 L237.00,154.82 L237.50,155.00 L238.00,155.18 L238.50,155.35 L239.00,155.53 L239.50,155.70 L240.00,155.88 L240.50,156.05 L241.00,156.22 L241.50,156.39 L242.00,156.56 L242.50,156.73 L243.00,156.90 L243.50,157.06 L244.00,157.23 L244.50,157.39 L245.00,157.55 L245.50,157.71 L246.00,157.87 L246.50,158.03 L247.00,158.18 L247.50,158.33 L248.00,158.49 L248.50,158.64 L249.00,158.79 L249.50,158.94 L250.00,159.09 L250.50,159.23 L251.00,159.38 L251.50,159.52 L252.00,159.67 L252.50,159.81 L253.00,159.95 L253.50,160.09 L254.00,160.23 L254.50,160.37 L255.00,160.51 L255.50,160.65 L256.00,160.79 L256.50,160.93 L257.00,161.07 L257.50,161.20 L258.00,161.34 L258.50,161.48 L259.00,161.62 L259.50,161.75 L260.00,161.89 L260.50,162.03 L261.00,162.16 L261.50,162.30 L262.00,162.44 L262.50,162.57 L263.00,162.71 L263.50,162.85 L264.00,162.98 L264.50,163.12 L265.00,163.26 L265.50,163.40 L266.00,163.53 L266.50,163.67 L267.00,163.80 L267.50,163.94 L268.00,164.08 L268.50,164.21 L269.00,164.35 L269.50,164.48 L270.00,164.62 L270.50,164.75 L271.00,164.89 L271.50,165.02 L272.00,165.15 L272.50,165.28 L273.00,165.42 L273.50,165.55 L274.00,165.68 L274.50,165.81 L275.00,165.94 L275.50,166.07 L276.00,166.20 L276.50,166.32 L277.00,166.45 L277.50,166.58 L278.00,166.70 L278.50,166.83 L279.00,166.95 L279.50,167.07 L280.00,167.20 L280.50,167.32 L281.00,167.45 L281.50,167.58 L282.00,167.70 L282.50,167.83 L283.00,167.96 L283.50,168.08 L284.00,168.21 L284.50,168.34 L285.00,168.46 L285.50,168.59 L286.00,168.72 L286.50,168.84 L287.00,168.96 L287.50,169.08 L288.00,169.21 L288.50,169.33 L289.00,169.44 L289.50,169.56 L290.00,169.67 L290.50,169.79 L291.00,169.90 L291.50,170.00 L292.00,170.11 L292.50,170.21 L293.00,170.31 L293.50,170.41 L294.00,170.50 L294.50,170.59 L295.00,170.68 L295.50,170.77 L296.00,170.85 L296.50,170.93 L297.00,171.01 L297.50,171.09 L298.00,171.17 L298.50,171.25 L299.00,171.33 L299.50,171.40 L300.00,171.48 L300.50,171.56 L301.00,171.64 L301.50,171.71 L302.00,171.79 L302.50,171.86 L303.00,171.94 L303.50,172.01 L304.00,172.08 L304.50,172.16 L305.00,172.23 L305.50,172.30 L306.00,172.37 L306.50,172.44 L307.00,172.51 L307.50,172.58 L308.00,172.65 L308.50,172.72 L309.00,172.78 L309.50,172.85 L310.00,172.92 L310.50,172.98 L311.00,173.05 L311.50,173.11 L312.00,173.17 L312.50,173.23 L313.00,173.30 L313.50,173.36 L314.00,173.42 L314.50,173.48 L315.00,173.54 L315.50,173.59 L316.00,173.65 L316.50,173.71 L317.00,173.76 L317.50,173.82 L318.00,173.87 L318.50,173.93 L319.00,173.98 L319.50,174.03 L320.00,174.08 L320.50,174.13 L321.00,174.18 L321.50,174.23 L322.00,174.28 L322.50,174.33 L323.00,174.37 L323.50,174.42 L324.00,174.46 L324.50,174.51 L325.00,174.55 L325.50,174.59 L326.00,174.63 L326.50,174.67 L327.00,174.71 L327.50,174.75 L328.00,174.78 L328.50,174.82 L329.00,174.86 L329.50,174.89 L330.00,174.92 L330.50,174.96 L331.00,174.99 L331.50,175.02 L332.00,175.05 L332.50,175.08 L333.00,175.11 L333.50,175.14 L334.00,175.17 L334.50,175.20 L335.00,175.22 L335.50,175.25 L336.00,175.28 L336.50,175.31 L337.00,175.34 L337.50,175.36 L338.00,175.39 L338.50,175.42 L339.00,175.44 L339.50,175.47 L340.00,175.50 L340.50,175.52 L341.00,175.55 L341.50,175.57 L342.00,175.60 L342.50,175.62 L343.00,175.65 L343.50,175.67 L344.00,175.70 L344.50,175.72 L345.00,175.75 L345.50,175.77 L346.00,175.79 L346.50,175.82 L347.00,175.84 L347.50,175.86 L348.00,175.89 L348.50,175.91 L349.00,175.93 L349.50,175.95 L350.00,175.98 L350.50,176.00 L351.00,176.02 L351.50,176.04 L352.00,176.06 L352.50,176.08 L353.00,176.10 L353.50,176.12 L354.00,176.14 L354.50,176.17 L355.00,176.19 L355.50,176.21 L356.00,176.23 L356.50,176.24 L357.00,176.26 L357.50,176.28 L358.00,176.30 L358.50,176.32 L359.00,176.34 L359.50,176.36 L360.00,176.38 L360.50,176.40 L361.00,176.42 L361.50,176.43 L362.00,176.45 L362.50,176.47 L363.00,176.49 L363.50,176.50 L364.00,176.52 L364.50,176.54 L365.00,176.56 L365.50,176.57 L366.00,176.59 L366.50,176.61 L367.00,176.62 L367.50,176.64 L368.00,176.66 L368.50,176.67 L369.00,176.69 L369.50,176.71 L370.00,176.72 L370.50,176.74 L371.00,176.76 L371.50,176.77 L372.00,176.79 L372.50,176.80 L373.00,176.82 L373.50,176.83 L374.00,176.85 L374.50,176.86 L375.00,176.88 L375.50,176.89 L376.00,176.91 L376.50,176.92 L377.00,176.94 L377.50,176.95 L378.00,176.97 L378.50,176.98 L379.00,177.00 L379.50,177.01 L380.00,177.03 L380.50,177.04 L381.00,177.06 L381.50,177.07 L382.00,177.08 L382.50,177.10 L383.00,177.11 L383.50,177.13 L384.00,177.14 L384.50,177.15 L385.00,177.17 L385.50,177.18 L386.00,177.20 L386.50,177.21 L387.00,177.22 L387.50,177.24 L388.00,177.25 L388.50,177.26 L389.00,177.28 L389.50,177.29 L390.00,177.31 L390.50,177.32 L391.00,177.33 L391.50,177.35 L392.00,177.36 L392.50,177.37 L393.00,177.39 L393.50,177.40 L394.00,177.41 L394.50,177.43 L395.00,177.44 L395.50,177.45 L396.00,177.47 L396.50,177.48 L397.00,177.50 L397.50,177.51 L398.00,177.52 L398.50,177.54 L399.00,177.55 L399.50,177.57 L400.00,177.58 L400.50,177.59 L401.00,177.61 L401.50,177.62 L402.00,177.64 L402.50,177.65 L403.00,177.67 L403.50,177.68 L404.00,177.69 L404.50,177.71 L405.00,177.72 L405.50,177.74 L406.00,177.75 L406.50,177.77 L407.00,177.78 L407.50,177.79 L408.00,177.81 L408.50,177.82 L409.00,177.84 L409.50,177.85 L410.00,177.87 L410.50,177.88 L411.00,177.89 L411.50,177.91 L412.00,177.92 L412.50,177.94 L413.00,177.95 L413.50,177.96 L414.00,177.98 L414.50,177.99 L415.00,178.01 L415.50,178.02 L416.00,178.03 L416.50,178.05 L417.00,178.06 L417.50,178.07 L418.00,178.09 L418.50,178.10 L419.00,178.12 L419.50,178.13 L420.00,178.14 L420.50,178.15 L421.00,178.17 L421.50,178.18 L422.00,178.19 L422.50,178.21 L423.00,178.22 L423.50,178.23 L424.00,178.24 L424.50,178.26 L425.00,178.27 L425.50,178.28 L426.00,178.29 L426.50,178.30 L427.00,178.32 L427.50,178.33 L428.00,178.34 L428.50,178.35 L429.00,178.36 L429.50,178.37 L430.00,178.38 L430.50,178.39 L431.00,178.41 L431.50,178.42 L432.00,178.43 L432.50,178.44 L433.00,178.45 L433.50,178.46 L434.00,178.47 L434.50,178.48 L435.00,178.49 L435.50,178.50 L436.00,178.50 L436.50,178.51 L437.00,178.52 L437.50,178.53 L438.00,178.54 L438.50,178.55 L439.00,178.56 L439.50,178.56 L440.00,178.57 L440.50,178.58 L441.00,178.59 L441.50,178.59 L442.00,178.60 L442.50,178.61 L443.00,178.61 L443.50,178.62 L444.00,178.63 L444.50,178.63 L445.00,178.64 L445.50,178.64 L446.00,178.65 L446.50,178.65 L447.00,178.66 L447.50,178.66 L448.00,178.67 L448.50,178.67 L449.00,178.67 L449.50,178.68 L450.00,178.68 L450.50,178.68 L451.00,178.69 L451.50,178.69 L452.00,178.69 L452.50,178.69 L453.00,178.70 L453.50,178.70 L454.00,178.70 L454.50,178.70 L455.00,178.70 L455.50,178.70 L456.00,178.70 L456.50,178.70 L457.00,178.70 L457.50,178.70 L458.00,178.70 L458.50,178.70 L459.00,178.70 L459.50,178.70 L460.00,178.70 L460.50,178.69 L461.00,178.69 L461.50,178.69 L462.00,178.69 L462.50,178.69 L463.00,178.69 L463.50,178.69 L464.00,178.68 L464.50,178.68 L465.00,178.68 L465.50,178.68 L466.00,178.68 L466.50,178.67 L467.00,178.67 L467.50,178.67 L468.00,178.67 L468.50,178.66 L469.00,178.66 L469.50,178.66 L470.00,178.66 L470.50,178.65 L471.00,178.65 L471.50,178.65 L472.00,178.64 L472.50,178.64 L473.00,178.64 L473.50,178.63 L474.00,178.63 L474.50,178.62 L475.00,178.62 L475.50,178.62 L476.00,178.61 L476.50,178.61 L477.00,178.60 L477.50,178.60 L478.00,178.60 L478.50,178.59 L479.00,178.59 L479.50,178.58 L480.00,178.58 L480.50,178.57 L481.00,178.57 L481.50,178.56 L482.00,178.56 L482.50,178.55 L483.00,178.55 L483.50,178.54 L484.00,178.54 L484.50,178.53 L485.00,178.53 L485.50,178.52 L486.00,178.52 L486.50,178.51 L487.00,178.51 L487.50,178.50 L488.00,178.50 L488.50,178.49 L489.00,178.48 L489.50,178.48 L490.00,178.47 L490.50,178.47 L491.00,178.46 L491.50,178.46 L492.00,178.45 L492.50,178.44 L493.00,178.44 L493.50,178.43 L494.00,178.43 L494.50,178.42 L495.00,178.41 L495.50,178.41 L496.00,178.40 L496.50,178.39 L497.00,178.39 L497.50,178.38 L498.00,178.37 L498.50,178.37 L499.00,178.36 L499.50,178.36 L500.00,178.35 L500.50,178.34 L501.00,178.34 L501.50,178.33 L502.00,178.32 L502.50,178.32 L503.00,178.31 L503.50,178.30 L504.00,178.30 L504.50,178.29 L505.00,178.28 L505.50,178.28 L506.00,178.27 L506.50,178.26 L507.00,178.25 L507.50,178.25 L508.00,178.24 L508.50,178.23 L509.00,178.23 L509.50,178.22 L510.00,178.21 L510.50,178.21 L511.00,178.20 L511.50,178.19 L512.00,178.19 L512.50,178.18 L513.00,178.17 L513.50,178.17 L514.00,178.16 L514.50,178.15 L515.00,178.15 L515.50,178.14 L516.00,178.13 L516.50,178.12 L517.00,178.12 L517.50,178.11 L518.00,178.10 L518.50,178.10 L519.00,178.09 L519.50,178.08 L520.00,178.08 L520.50,178.07 L521.00,178.06 L521.50,178.05 L522.00,178.05 L522.50,178.04 L523.00,178.03 L523.50,178.02 L524.00,178.02 L524.50,178.01 L525.00,178.00 L525.50,177.99 L526.00,177.98 L526.50,177.98 L527.00,177.97 L527.50,177.96 L528.00,177.95 L528.50,177.94 L529.00,177.93 L529.50,177.93 L530.00,177.92 L530.50,177.91 L531.00,177.90 L531.50,177.89 L532.00,177.88 L532.50,177.87 L533.00,177.86 L533.50,177.85 L534.00,177.84 L534.50,177.83 L535.00,177.82 L535.50,177.82 L536.00,177.81 L536.50,177.80 L537.00,177.79 L537.50,177.78 L538.00,177.77 L538.50,177.76 L539.00,177.75 L539.50,177.74 L540.00,177.73 L540.50,177.71 L541.00,177.70 L541.50,177.69 L542.00,177.68 L542.50,177.67 L543.00,177.66 L543.50,177.65 L544.00,177.64 L544.50,177.63 L545.00,177.62 L545.50,177.61 L546.00,177.60 L546.50,177.58 L547.00,177.57 L547.50,177.56 L548.00,177.55 L548.50,177.54 L549.00,177.53 L549.50,177.52 L550.00,177.50 L550.50,177.49 L551.00,177.48 L551.50,177.47 L552.00,177.46 L552.50,177.44 L553.00,177.43 L553.50,177.42 L554.00,177.41 L554.50,177.39 L555.00,177.38 L555.50,177.37 L556.00,177.36 L556.50,177.35 L557.00,177.33 L557.50,177.32 L558.00,177.31 L558.50,177.29 L559.00,177.28 L559.50,177.27 L560.00,177.26 L560.50,177.24 L561.00,177.23 L561.50,177.22 L562.00,177.20 L562.50,177.19 L563.00,177.18 L563.50,177.16 L564.00,177.15 L564.50,177.14 L565.00,177.12 L565.50,177.11 L566.00,177.09 L566.50,177.08 L567.00,177.07 L567.50,177.05 L568.00,177.04 L568.50,177.03 L569.00,177.01 L569.50,177.00 L570.00,176.98 L570.50,176.97 L571.00,176.95 L571.50,176.94 L572.00,176.93 L572.50,176.91 L573.00,176.90 L573.50,176.88 L574.00,176.87 L574.50,176.85 L575.00,176.84 L575.50,176.82 L576.00,176.81 L576.50,176.80 L577.00,176.78 L577.50,176.77 L578.00,176.75 L578.50,176.74 L579.00,176.72 L579.50,176.71 L580.00,176.69 L580.50,176.68 L581.00,176.66 L581.50,176.65 L582.00,176.63 L582.50,176.61 L583.00,176.60 L583.50,176.58 L584.00,176.57 L584.50,176.55 L585.00,176.54 L585.50,176.52 L586.00,176.51 L586.50,176.49 L587.00,176.47 L587.50,176.46 L588.00,176.44 L588.50,176.43 L589.00,176.41 L589.50,176.40 L590.00,176.38 L590.50,176.36 L591.00,176.35 L591.50,176.33 L592.00,176.32 L592.50,176.30" fill="none" stroke="#0000ff" stroke-width="2.9" stroke-linecap="round" clip-path="url(#cu)"/>
<path d="M137.10,325.80 L137.52,326.25 L137.93,327.59 L138.35,329.79 L138.76,332.78 L139.18,336.48 L139.59,340.80 L140.01,345.60 L140.43,350.77 L140.84,356.17 L141.26,361.63 L141.67,367.03 L142.09,372.20 L142.51,377.00 L142.92,381.32 L143.34,385.02 L143.75,388.01 L144.17,390.21 L144.58,391.55 L145.00,392.00 L145.41,391.87 L145.83,391.48 L146.24,390.83 L146.65,389.94 L147.07,388.84 L147.48,387.53 L147.90,386.05 L148.31,384.43 L148.72,382.70 L149.14,380.89 L149.55,379.05 L149.96,377.21 L150.38,375.40 L150.79,373.67 L151.20,372.05 L151.62,370.57 L152.03,369.26 L152.45,368.16 L152.86,367.27 L153.27,366.62 L153.69,366.23 L154.10,366.10 L154.51,366.41 L154.93,367.33 L155.34,368.81 L155.76,370.77 L156.17,373.12 L156.59,375.74 L157.00,378.50 L157.41,381.26 L157.83,383.88 L158.24,386.23 L158.66,388.19 L159.07,389.67 L159.49,390.59 L159.90,390.90 L160.30,390.73 L160.71,390.22 L161.11,389.39 L161.51,388.22 L161.92,386.75 L162.32,384.98 L162.72,382.92 L163.12,380.60 L163.53,378.05 L163.93,375.28 L164.33,372.32 L164.74,369.20 L165.14,365.95 L165.54,362.61 L165.95,359.20 L166.35,355.75 L166.75,352.30 L167.16,348.89 L167.56,345.55 L167.96,342.30 L168.37,339.18 L168.77,336.22 L169.17,333.45 L169.58,330.90 L169.98,328.58 L170.38,326.52 L170.78,324.75 L171.19,323.28 L171.59,322.11 L171.99,321.28 L172.40,320.77 L172.80,320.60 L173.22,320.85 L173.63,321.58 L174.05,322.79 L174.46,324.46 L174.88,326.57 L175.29,329.08 L175.71,331.95 L176.12,335.16 L176.54,338.64 L176.95,342.35 L177.37,346.24 L177.78,350.24 L178.20,354.30 L178.62,358.36 L179.03,362.36 L179.45,366.25 L179.86,369.96 L180.28,373.44 L180.69,376.65 L181.11,379.52 L181.52,382.03 L181.94,384.14 L182.35,385.81 L182.77,387.02 L183.18,387.75 L183.60,388.00 L184.01,387.86 L184.41,387.45 L184.82,386.78 L185.22,385.87 L185.63,384.74 L186.03,383.42 L186.44,381.96 L186.84,380.38 L187.25,378.73 L187.65,377.07 L188.06,375.42 L188.46,373.84 L188.87,372.38 L189.27,371.06 L189.68,369.93 L190.08,369.02 L190.49,368.35 L190.89,367.94 L191.30,367.80 L191.72,367.91 L192.13,368.24 L192.55,368.78 L192.97,369.52 L193.38,370.43 L193.80,371.48 L194.22,372.64 L194.63,373.87 L195.05,375.15 L195.47,376.43 L195.88,377.66 L196.30,378.82 L196.72,379.87 L197.13,380.78 L197.55,381.52 L197.97,382.06 L198.38,382.39 L198.80,382.50 L199.21,382.35 L199.63,381.88 L200.04,381.12 L200.46,380.06 L200.87,378.73 L201.29,377.13 L201.70,375.29 L202.11,373.24 L202.53,370.99 L202.94,368.57 L203.36,366.02 L203.77,363.37 L204.19,360.65 L204.60,357.90 L205.01,355.15 L205.43,352.43 L205.84,349.78 L206.26,347.23 L206.67,344.81 L207.09,342.56 L207.50,340.51 L207.91,338.67 L208.33,337.07 L208.74,335.74 L209.16,334.68 L209.57,333.92 L209.99,333.45 L210.40,333.30 L210.81,333.46 L211.23,333.92 L211.64,334.70 L212.06,335.76 L212.47,337.11 L212.89,338.72 L213.30,340.56 L213.72,342.63 L214.13,344.88 L214.55,347.28 L214.96,349.81 L215.38,352.43 L215.79,355.10 L216.21,357.80 L216.62,360.47 L217.04,363.09 L217.45,365.62 L217.87,368.03 L218.28,370.27 L218.70,372.34 L219.11,374.18 L219.53,375.79 L219.94,377.14 L220.36,378.20 L220.77,378.98 L221.19,379.44 L221.60,379.60 L222.01,379.52 L222.41,379.27 L222.82,378.86 L223.22,378.30 L223.63,377.62 L224.03,376.83 L224.44,375.95 L224.84,375.01 L225.25,374.05 L225.66,373.09 L226.06,372.15 L226.47,371.28 L226.87,370.48 L227.28,369.80 L227.68,369.24 L228.09,368.83 L228.49,368.58 L228.90,368.50 L229.33,368.59 L229.76,368.84 L230.19,369.25 L230.62,369.80 L231.05,370.44 L231.48,371.14 L231.92,371.86 L232.35,372.56 L232.78,373.20 L233.21,373.75 L233.64,374.16 L234.07,374.41 L234.50,374.50 L234.90,374.45 L235.31,374.31 L235.71,374.06 L236.11,373.73 L236.51,373.30 L236.92,372.79 L237.32,372.19 L237.72,371.51 L238.12,370.75 L238.53,369.93 L238.93,369.04 L239.33,368.10 L239.74,367.11 L240.14,366.08 L240.54,365.01 L240.94,363.92 L241.35,362.82 L241.75,361.70 L242.15,360.58 L242.56,359.48 L242.96,358.39 L243.36,357.32 L243.76,356.29 L244.17,355.30 L244.57,354.36 L244.97,353.47 L245.38,352.65 L245.78,351.89 L246.18,351.21 L246.58,350.61 L246.99,350.10 L247.39,349.67 L247.79,349.34 L248.19,349.09 L248.60,348.95 L249.00,348.90 L249.41,348.97 L249.82,349.18 L250.23,349.54 L250.64,350.02 L251.05,350.64 L251.46,351.38 L251.88,352.22 L252.29,353.17 L252.70,354.21 L253.11,355.33 L253.52,356.50 L253.93,357.72 L254.34,358.98 L254.75,360.25 L255.16,361.52 L255.57,362.78 L255.98,364.00 L256.39,365.17 L256.80,366.29 L257.21,367.33 L257.62,368.28 L258.04,369.12 L258.45,369.86 L258.86,370.48 L259.27,370.96 L259.68,371.32 L260.09,371.53 L260.50,371.60 L260.90,371.58 L261.31,371.52 L261.71,371.43 L262.12,371.30 L262.52,371.14 L262.93,370.95 L263.33,370.73 L263.73,370.49 L264.14,370.24 L264.54,369.97 L264.95,369.69 L265.35,369.41 L265.76,369.13 L266.16,368.86 L266.57,368.61 L266.97,368.37 L267.37,368.15 L267.78,367.96 L268.18,367.80 L268.59,367.67 L268.99,367.58 L269.40,367.52 L269.80,367.50 L270.21,367.52 L270.63,367.59 L271.04,367.69 L271.45,367.83 L271.87,368.00 L272.28,368.19 L272.69,368.40 L273.11,368.60 L273.52,368.81 L273.93,369.00 L274.35,369.17 L274.76,369.31 L275.17,369.41 L275.59,369.48 L276.00,369.50 L276.41,369.47 L276.82,369.37 L277.24,369.21 L277.65,368.99 L278.06,368.72 L278.47,368.39 L278.88,368.01 L279.30,367.60 L279.71,367.15 L280.12,366.67 L280.53,366.17 L280.94,365.66 L281.36,365.14 L281.77,364.63 L282.18,364.13 L282.59,363.65 L283.00,363.20 L283.42,362.79 L283.83,362.41 L284.24,362.08 L284.65,361.81 L285.06,361.59 L285.48,361.43 L285.89,361.33 L286.30,361.30 L286.72,361.32 L287.13,361.38 L287.55,361.48 L287.96,361.62 L288.38,361.79 L288.80,361.99 L289.21,362.22 L289.63,362.48 L290.04,362.76 L290.46,363.06 L290.88,363.37 L291.29,363.69 L291.71,364.01 L292.12,364.33 L292.54,364.64 L292.96,364.94 L293.37,365.22 L293.79,365.48 L294.20,365.71 L294.62,365.91 L295.04,366.08 L295.45,366.22 L295.87,366.32 L296.28,366.38 L296.70,366.40 L297.11,366.38 L297.52,366.31 L297.93,366.19 L298.34,366.04 L298.76,365.85 L299.17,365.62 L299.58,365.38 L299.99,365.12 L300.40,364.85 L300.81,364.58 L301.22,364.32 L301.63,364.07 L302.04,363.85 L302.46,363.66 L302.87,363.51 L303.28,363.39 L303.69,363.32 L304.10,363.30 L304.50,363.31 L304.91,363.33 L305.31,363.38 L305.72,363.44 L306.12,363.51 L306.53,363.60 L306.93,363.71 L307.33,363.83 L307.74,363.97 L308.14,364.12 L308.55,364.28 L308.95,364.46 L309.36,364.65 L309.76,364.85 L310.17,365.05 L310.57,365.27 L310.97,365.50 L311.38,365.73 L311.78,365.97 L312.19,366.21 L312.59,366.45 L313.00,366.70 L313.40,366.95 L313.80,367.20 L314.21,367.45 L314.61,367.69 L315.02,367.93 L315.42,368.17 L315.83,368.40 L316.23,368.63 L316.63,368.85 L317.04,369.05 L317.44,369.25 L317.85,369.44 L318.25,369.62 L318.66,369.78 L319.06,369.93 L319.47,370.07 L319.87,370.19 L320.27,370.30 L320.68,370.39 L321.08,370.46 L321.49,370.52 L321.89,370.57 L322.30,370.59 L322.70,370.60 L323.11,370.59 L323.51,370.56 L323.92,370.51 L324.32,370.44 L324.73,370.36 L325.14,370.25 L325.54,370.12 L325.95,369.98 L326.35,369.82 L326.76,369.64 L327.16,369.45 L327.57,369.24 L327.98,369.02 L328.38,368.78 L328.79,368.53 L329.19,368.27 L329.60,368.00 L330.01,367.72 L330.41,367.43 L330.82,367.13 L331.22,366.82 L331.63,366.51 L332.04,366.20 L332.44,365.88 L332.85,365.56 L333.25,365.24 L333.66,364.92 L334.06,364.60 L334.47,364.29 L334.88,363.98 L335.28,363.67 L335.69,363.37 L336.09,363.08 L336.50,362.80 L336.91,362.53 L337.31,362.27 L337.72,362.02 L338.12,361.78 L338.53,361.56 L338.94,361.35 L339.34,361.16 L339.75,360.98 L340.15,360.82 L340.56,360.68 L340.96,360.55 L341.37,360.44 L341.78,360.36 L342.18,360.29 L342.59,360.24 L342.99,360.21 L343.40,360.20 L343.80,360.22 L344.20,360.28 L344.60,360.37 L345.00,360.50 L345.40,360.67 L345.80,360.87 L346.20,361.10 L346.60,361.37 L347.00,361.67 L347.40,362.00 L347.80,362.36 L348.20,362.74 L348.60,363.15 L349.00,363.57 L349.40,364.02 L349.80,364.48 L350.20,364.96 L350.60,365.45 L351.00,365.94 L351.40,366.45 L351.80,366.95 L352.20,367.45 L352.60,367.96 L353.00,368.45 L353.40,368.94 L353.80,369.42 L354.20,369.88 L354.60,370.32 L355.00,370.75 L355.40,371.16 L355.80,371.54 L356.20,371.90 L356.60,372.23 L357.00,372.53 L357.40,372.80 L357.80,373.03 L358.20,373.23 L358.60,373.40 L359.00,373.53 L359.40,373.62 L359.80,373.68 L360.20,373.70 L360.60,373.68 L361.01,373.63 L361.41,373.55 L361.82,373.43 L362.22,373.29 L362.62,373.11 L363.03,372.89 L363.43,372.65 L363.84,372.38 L364.24,372.08 L364.64,371.76 L365.05,371.40 L365.45,371.03 L365.85,370.63 L366.26,370.20 L366.66,369.76 L367.07,369.30 L367.47,368.82 L367.87,368.33 L368.28,367.82 L368.68,367.31 L369.09,366.78 L369.49,366.25 L369.89,365.71 L370.30,365.17 L370.70,364.63 L371.11,364.09 L371.51,363.55 L371.91,363.02 L372.32,362.49 L372.72,361.98 L373.13,361.47 L373.53,360.98 L373.93,360.50 L374.34,360.04 L374.74,359.60 L375.15,359.17 L375.55,358.77 L375.95,358.40 L376.36,358.04 L376.76,357.72 L377.16,357.42 L377.57,357.15 L377.97,356.91 L378.38,356.69 L378.78,356.51 L379.18,356.37 L379.59,356.25 L379.99,356.17 L380.40,356.12 L380.80,356.10 L381.20,356.12 L381.60,356.18 L382.01,356.27 L382.41,356.40 L382.81,356.57 L383.21,356.78 L383.61,357.02 L384.02,357.30 L384.42,357.61 L384.82,357.95 L385.22,358.32 L385.62,358.72 L386.03,359.15 L386.43,359.60 L386.83,360.08 L387.23,360.58 L387.63,361.10 L388.04,361.64 L388.44,362.19 L388.84,362.75 L389.24,363.33 L389.64,363.92 L390.05,364.51 L390.45,365.10 L390.85,365.70 L391.25,366.29 L391.66,366.88 L392.06,367.47 L392.46,368.05 L392.86,368.61 L393.26,369.16 L393.67,369.70 L394.07,370.22 L394.47,370.72 L394.87,371.20 L395.27,371.65 L395.68,372.08 L396.08,372.48 L396.48,372.85 L396.88,373.19 L397.28,373.50 L397.69,373.78 L398.09,374.02 L398.49,374.23 L398.89,374.40 L399.29,374.53 L399.70,374.62 L400.10,374.68 L400.50,374.70 L400.90,374.68 L401.30,374.62 L401.70,374.51 L402.10,374.36 L402.50,374.17 L402.90,373.95 L403.30,373.68 L403.70,373.37 L404.10,373.03 L404.50,372.66 L404.90,372.25 L405.30,371.80 L405.70,371.33 L406.10,370.84 L406.50,370.31 L406.90,369.77 L407.30,369.20 L407.70,368.61 L408.10,368.01 L408.50,367.40 L408.90,366.78 L409.30,366.15 L409.70,365.52 L410.10,364.88 L410.50,364.25 L410.90,363.62 L411.30,363.00 L411.70,362.39 L412.10,361.79 L412.50,361.20 L412.90,360.63 L413.30,360.09 L413.70,359.56 L414.10,359.07 L414.50,358.60 L414.90,358.15 L415.30,357.74 L415.70,357.37 L416.10,357.03 L416.50,356.72 L416.90,356.45 L417.30,356.23 L417.70,356.04 L418.10,355.89 L418.50,355.78 L418.90,355.72 L419.30,355.70 L419.71,355.72 L420.12,355.78 L420.53,355.88 L420.93,356.02 L421.34,356.20 L421.75,356.42 L422.16,356.68 L422.57,356.97 L422.98,357.30 L423.38,357.66 L423.79,358.06 L424.20,358.48 L424.61,358.94 L425.02,359.42 L425.43,359.92 L425.83,360.45 L426.24,361.00 L426.65,361.56 L427.06,362.15 L427.47,362.74 L427.88,363.35 L428.28,363.96 L428.69,364.58 L429.10,365.20 L429.51,365.82 L429.92,366.44 L430.32,367.05 L430.73,367.66 L431.14,368.25 L431.55,368.84 L431.96,369.40 L432.37,369.95 L432.77,370.48 L433.18,370.98 L433.59,371.46 L434.00,371.92 L434.41,372.34 L434.82,372.74 L435.22,373.10 L435.63,373.43 L436.04,373.72 L436.45,373.98 L436.86,374.20 L437.27,374.38 L437.67,374.52 L438.08,374.62 L438.49,374.68 L438.90,374.70 L439.30,374.68 L439.70,374.63 L440.11,374.54 L440.51,374.41 L440.91,374.25 L441.31,374.06 L441.71,373.83 L442.12,373.57 L442.52,373.28 L442.92,372.95 L443.32,372.60 L443.72,372.22 L444.13,371.82 L444.53,371.39 L444.93,370.93 L445.33,370.46 L445.73,369.97 L446.14,369.46 L446.54,368.94 L446.94,368.40 L447.34,367.86 L447.74,367.30 L448.15,366.75 L448.55,366.18 L448.95,365.62 L449.35,365.05 L449.76,364.50 L450.16,363.94 L450.56,363.40 L450.96,362.86 L451.36,362.34 L451.77,361.83 L452.17,361.34 L452.57,360.87 L452.97,360.41 L453.37,359.98 L453.78,359.58 L454.18,359.20 L454.58,358.85 L454.98,358.52 L455.38,358.23 L455.79,357.97 L456.19,357.74 L456.59,357.55 L456.99,357.39 L457.39,357.26 L457.80,357.17 L458.20,357.12 L458.60,357.10 L459.00,357.12 L459.41,357.18 L459.81,357.28 L460.22,357.41 L460.62,357.59 L461.03,357.80 L461.43,358.05 L461.84,358.33 L462.24,358.65 L462.65,358.99 L463.05,359.37 L463.45,359.77 L463.86,360.21 L464.26,360.66 L464.67,361.14 L465.07,361.63 L465.48,362.14 L465.88,362.67 L466.29,363.20 L466.69,363.75 L467.10,364.30 L467.50,364.85 L467.90,365.40 L468.31,365.95 L468.71,366.50 L469.12,367.03 L469.52,367.56 L469.93,368.07 L470.33,368.56 L470.74,369.04 L471.14,369.49 L471.55,369.93 L471.95,370.33 L472.35,370.71 L472.76,371.05 L473.16,371.37 L473.57,371.65 L473.97,371.90 L474.38,372.11 L474.78,372.29 L475.19,372.42 L475.59,372.52 L476.00,372.58 L476.40,372.60 L476.80,372.59 L477.20,372.55 L477.60,372.49 L478.00,372.40 L478.40,372.28 L478.80,372.15 L479.20,371.99 L479.60,371.80 L480.00,371.60 L480.40,371.37 L480.80,371.12 L481.20,370.85 L481.60,370.57 L482.00,370.27 L482.40,369.95 L482.80,369.61 L483.20,369.27 L483.60,368.91 L484.00,368.54 L484.40,368.16 L484.80,367.78 L485.20,367.39 L485.60,367.00 L486.00,366.60 L486.40,366.20 L486.80,365.80 L487.20,365.41 L487.60,365.02 L488.00,364.64 L488.40,364.26 L488.80,363.89 L489.20,363.53 L489.60,363.19 L490.00,362.85 L490.40,362.53 L490.80,362.23 L491.20,361.95 L491.60,361.68 L492.00,361.43 L492.40,361.20 L492.80,361.00 L493.20,360.81 L493.60,360.65 L494.00,360.52 L494.40,360.40 L494.80,360.31 L495.20,360.25 L495.60,360.21 L496.00,360.20 L496.40,360.21 L496.80,360.24 L497.20,360.28 L497.60,360.35 L498.00,360.43 L498.40,360.53 L498.80,360.64 L499.20,360.78 L499.60,360.92 L500.00,361.09 L500.40,361.27 L500.80,361.46 L501.20,361.67 L501.60,361.89 L502.00,362.12 L502.40,362.36 L502.80,362.61 L503.20,362.87 L503.60,363.14 L504.00,363.41 L504.40,363.69 L504.80,363.98 L505.20,364.27 L505.60,364.56 L506.00,364.85 L506.40,365.14 L506.80,365.43 L507.20,365.72 L507.60,366.01 L508.00,366.29 L508.40,366.56 L508.80,366.83 L509.20,367.09 L509.60,367.34 L510.00,367.58 L510.40,367.81 L510.80,368.03 L511.20,368.24 L511.60,368.43 L512.00,368.61 L512.40,368.78 L512.80,368.92 L513.20,369.06 L513.60,369.17 L514.00,369.27 L514.40,369.35 L514.80,369.42 L515.20,369.46 L515.60,369.49 L516.00,369.50 L516.41,369.49 L516.81,369.47 L517.22,369.43 L517.62,369.37 L518.03,369.30 L518.44,369.21 L518.84,369.11 L519.25,368.99 L519.66,368.86 L520.06,368.71 L520.47,368.56 L520.88,368.39 L521.28,368.21 L521.69,368.01 L522.09,367.81 L522.50,367.60 L522.91,367.38 L523.31,367.15 L523.72,366.92 L524.12,366.68 L524.53,366.44 L524.94,366.20 L525.34,365.95 L525.75,365.70 L526.16,365.45 L526.56,365.20 L526.97,364.96 L527.38,364.72 L527.78,364.48 L528.19,364.25 L528.59,364.02 L529.00,363.80 L529.41,363.59 L529.81,363.39 L530.22,363.19 L530.62,363.01 L531.03,362.84 L531.44,362.69 L531.84,362.54 L532.25,362.41 L532.66,362.29 L533.06,362.19 L533.47,362.10 L533.88,362.03 L534.28,361.97 L534.69,361.93 L535.09,361.91 L535.50,361.90 L535.90,361.91 L536.31,361.93 L536.71,361.96 L537.12,362.00 L537.52,362.06 L537.93,362.13 L538.33,362.21 L538.73,362.31 L539.14,362.41 L539.54,362.53 L539.95,362.65 L540.35,362.79 L540.76,362.93 L541.16,363.09 L541.57,363.25 L541.97,363.41 L542.37,363.58 L542.78,363.76 L543.18,363.94 L543.59,364.13 L543.99,364.32 L544.40,364.51 L544.80,364.70 L545.20,364.89 L545.61,365.08 L546.01,365.27 L546.42,365.46 L546.82,365.64 L547.23,365.82 L547.63,365.99 L548.03,366.15 L548.44,366.31 L548.84,366.47 L549.25,366.61 L549.65,366.75 L550.06,366.87 L550.46,366.99 L550.87,367.09 L551.27,367.19 L551.67,367.27 L552.08,367.34 L552.48,367.40 L552.89,367.44 L553.29,367.47 L553.70,367.49 L554.10,367.50 L554.50,367.50 L554.90,367.48 L555.30,367.46 L555.70,367.44 L556.10,367.40 L556.50,367.36 L556.90,367.31 L557.30,367.25 L557.70,367.19 L558.10,367.12 L558.50,367.05 L558.90,366.97 L559.30,366.88 L559.70,366.79 L560.10,366.69 L560.50,366.59 L560.90,366.49 L561.30,366.39 L561.70,366.28 L562.10,366.17 L562.50,366.06 L562.90,365.95 L563.30,365.84 L563.70,365.73 L564.10,365.62 L564.50,365.51 L564.90,365.41 L565.30,365.31 L565.70,365.21 L566.10,365.11 L566.50,365.02 L566.90,364.93 L567.30,364.85 L567.70,364.78 L568.10,364.71 L568.50,364.65 L568.90,364.59 L569.30,364.54 L569.70,364.50 L570.10,364.46 L570.50,364.44 L570.90,364.42 L571.30,364.40 L571.70,364.40 L572.11,364.40 L572.52,364.40 L572.92,364.41 L573.33,364.42 L573.74,364.42 L574.15,364.43 L574.55,364.45 L574.96,364.46 L575.37,364.47 L575.78,364.49 L576.19,364.51 L576.59,364.53 L577.00,364.55 L577.41,364.57 L577.82,364.60 L578.23,364.62 L578.63,364.65 L579.04,364.68 L579.45,364.71 L579.86,364.73 L580.26,364.76 L580.67,364.79 L581.08,364.82 L581.49,364.85 L581.90,364.88 L582.30,364.92 L582.71,364.95 L583.12,364.98 L583.53,365.01 L583.94,365.04 L584.34,365.07 L584.75,365.09 L585.16,365.12 L585.57,365.15 L585.97,365.18 L586.38,365.20 L586.79,365.23 L587.20,365.25 L587.61,365.27 L588.01,365.29 L588.42,365.31 L588.83,365.33 L589.24,365.34 L589.65,365.35 L590.05,365.37 L590.46,365.38 L590.87,365.38 L591.28,365.39 L591.68,365.40 L592.09,365.40 L592.50,365.40" fill="none" stroke="#c00000" stroke-width="2.1" clip-path="url(#cl)"/>
<path d="M136.60,279.00 L137.10,289.10 L137.60,298.87 L138.10,308.24 L138.60,317.11 L139.10,325.42 L139.60,333.08 L140.10,340.01 L140.60,346.52 L141.10,353.26 L141.60,360.03 L142.10,366.58 L142.60,372.70 L143.10,378.16 L143.60,382.72 L144.10,386.17 L144.60,388.26 L145.10,388.79 L145.60,388.46 L146.10,387.74 L146.60,386.73 L147.10,385.55 L147.60,384.28 L148.10,383.04 L148.60,381.94 L149.10,381.06 L149.60,380.52 L150.10,380.14 L150.60,379.81 L151.10,379.53 L151.60,379.29 L152.10,379.07 L152.60,378.88 L153.10,378.70 L153.60,378.54 L154.10,378.37 L154.60,378.19 L155.10,378.00 L155.60,377.79 L156.10,377.55 L156.60,377.27 L157.10,376.94 L157.60,376.57 L158.10,376.11 L158.60,375.47 L159.10,374.67 L159.60,373.72 L160.10,372.64 L160.60,371.46 L161.10,370.18 L161.60,368.83 L162.10,367.43 L162.60,366.00 L163.10,364.56 L163.60,363.13 L164.10,361.71 L164.60,360.10 L165.10,358.24 L165.60,356.24 L166.10,354.17 L166.60,352.13 L167.10,350.21 L167.60,348.50 L168.10,347.08 L168.60,346.05 L169.10,345.34 L169.60,344.66 L170.10,344.04 L170.60,343.49 L171.10,343.04 L171.60,342.72 L172.10,342.53 L172.60,342.51 L173.10,342.64 L173.60,342.89 L174.10,343.24 L174.60,343.69 L175.10,344.21 L175.60,344.78 L176.10,345.39 L176.60,346.02 L177.10,346.65 L177.60,347.27 L178.10,347.86 L178.60,348.40 L179.10,348.95 L179.60,349.57 L180.10,350.25 L180.60,350.95 L181.10,351.66 L181.60,352.36 L182.10,353.03 L182.60,353.64 L183.10,354.18 L183.60,354.63 L184.10,354.96 L184.60,355.16 L185.10,355.24 L185.60,355.29 L186.10,355.34 L186.60,355.39 L187.10,355.44 L187.60,355.47 L188.10,355.51 L188.60,355.54 L189.10,355.56 L189.60,355.58 L190.10,355.59 L190.60,355.60 L191.10,355.60 L191.60,355.60 L192.10,355.59 L192.60,355.58 L193.10,355.57 L193.60,355.55 L194.10,355.54 L194.60,355.52 L195.10,355.49 L195.60,355.47 L196.10,355.44 L196.60,355.41 L197.10,355.37 L197.60,355.34 L198.10,355.30 L198.60,355.26 L199.10,355.22 L199.60,355.18 L200.10,355.13 L200.60,355.09 L201.10,355.04 L201.60,354.99 L202.10,354.95 L202.60,354.90 L203.10,354.85 L203.60,354.80 L204.10,354.74 L204.60,354.69 L205.10,354.64 L205.60,354.59 L206.10,354.54 L206.60,354.49 L207.10,354.44 L207.60,354.38 L208.10,354.33 L208.60,354.28 L209.10,354.24 L209.60,354.19 L210.10,354.14 L210.60,354.09 L211.10,354.05 L211.60,354.01 L212.10,353.96 L212.60,353.92 L213.10,353.89 L213.60,353.85 L214.10,353.81 L214.60,353.78 L215.10,353.75 L215.60,353.72 L216.10,353.70 L216.60,353.68 L217.10,353.66 L217.60,353.64 L218.10,353.62 L218.60,353.61 L219.10,353.61 L219.60,353.60 L220.10,353.60 L220.60,353.60 L221.10,353.60 L221.60,353.60 L222.10,353.60 L222.60,353.60 L223.10,353.60 L223.60,353.60 L224.10,353.60 L224.60,353.60 L225.10,353.60 L225.60,353.60 L226.10,353.60 L226.60,353.60 L227.10,353.60 L227.60,353.60 L228.10,353.60 L228.60,353.60 L229.10,353.60 L229.60,353.60 L230.10,353.60 L230.60,353.60 L231.10,353.60 L231.60,353.60 L232.10,353.60 L232.60,353.60 L233.10,353.60 L233.60,353.60 L234.10,353.60 L234.60,353.60 L235.10,353.60 L235.60,353.60 L236.10,353.60 L236.60,353.60 L237.10,353.60 L237.60,353.60 L238.10,353.60 L238.60,353.60 L239.10,353.60 L239.60,353.60 L240.10,353.60 L240.60,353.60 L241.10,353.60 L241.60,353.60 L242.10,353.60 L242.60,353.60 L243.10,353.60 L243.60,353.60 L244.10,353.60 L244.60,353.60 L245.10,353.60 L245.60,353.60 L246.10,353.60 L246.60,353.60 L247.10,353.60 L247.60,353.60 L248.10,353.60 L248.60,353.60 L249.10,353.60 L249.60,353.60 L250.10,353.60 L250.60,353.60 L251.10,353.60 L251.60,353.60 L252.10,353.60 L252.60,353.60 L253.10,353.60 L253.60,353.60 L254.10,353.60 L254.60,353.60 L255.10,353.60 L255.60,353.60 L256.10,353.60 L256.60,353.60 L257.10,353.60 L257.60,353.60 L258.10,353.60 L258.60,353.60 L259.10,353.60 L259.60,353.60 L260.10,353.60 L260.60,353.60 L261.10,353.60 L261.60,353.60 L262.10,353.60 L262.60,353.60 L263.10,353.60 L263.60,353.60 L264.10,353.60 L264.60,353.60 L265.10,353.60 L265.60,353.60 L266.10,353.60 L266.60,353.60 L267.10,353.60 L267.60,353.60 L268.10,353.60 L268.60,353.60 L269.10,353.60 L269.60,353.60 L270.10,353.60 L270.60,353.60 L271.10,353.60 L271.60,353.60 L272.10,353.60 L272.60,353.60 L273.10,353.60 L273.60,353.60 L274.10,353.60 L274.60,353.60 L275.10,353.60 L275.60,353.60 L276.10,353.60 L276.60,353.60 L277.10,353.60 L277.60,353.60 L278.10,353.60 L278.60,353.60 L279.10,353.60 L279.60,353.60 L280.10,353.60 L280.60,353.60 L281.10,353.60 L281.60,353.60 L282.10,353.60 L282.60,353.60 L283.10,353.60 L283.60,353.60 L284.10,353.60 L284.60,353.60 L285.10,353.60 L285.60,353.60 L286.10,353.60 L286.60,353.60 L287.10,353.60 L287.60,353.60 L288.10,353.60 L288.60,353.60 L289.10,353.60 L289.60,353.60 L290.10,353.60 L290.60,353.60 L291.10,353.60 L291.60,353.60 L292.10,353.60 L292.60,353.60 L293.10,353.60 L293.60,353.60 L294.10,353.60 L294.60,353.60 L295.10,353.60 L295.60,353.60 L296.10,353.60 L296.60,353.60 L297.10,353.60 L297.60,353.60 L298.10,353.60 L298.60,353.60 L299.10,353.60 L299.60,353.60 L300.10,353.60 L300.60,353.60 L301.10,353.60 L301.60,353.60 L302.10,353.60 L302.60,353.60 L303.10,353.60 L303.60,353.60 L304.10,353.60 L304.60,353.60 L305.10,353.60 L305.60,353.60 L306.10,353.60 L306.60,353.61 L307.10,353.61 L307.60,353.61 L308.10,353.61 L308.60,353.61 L309.10,353.61 L309.60,353.61 L310.10,353.61 L310.60,353.61 L311.10,353.61 L311.60,353.61 L312.10,353.61 L312.60,353.61 L313.10,353.61 L313.60,353.61 L314.10,353.61 L314.60,353.61 L315.10,353.61 L315.60,353.61 L316.10,353.61 L316.60,353.61 L317.10,353.61 L317.60,353.61 L318.10,353.61 L318.60,353.61 L319.10,353.61 L319.60,353.61 L320.10,353.61 L320.60,353.61 L321.10,353.61 L321.60,353.61 L322.10,353.61 L322.60,353.61 L323.10,353.61 L323.60,353.61 L324.10,353.61 L324.60,353.61 L325.10,353.61 L325.60,353.61 L326.10,353.61 L326.60,353.61 L327.10,353.61 L327.60,353.61 L328.10,353.61 L328.60,353.61 L329.10,353.61 L329.60,353.61 L330.10,353.61 L330.60,353.61 L331.10,353.61 L331.60,353.61 L332.10,353.61 L332.60,353.61 L333.10,353.61 L333.60,353.61 L334.10,353.61 L334.60,353.61 L335.10,353.61 L335.60,353.61 L336.10,353.61 L336.60,353.61 L337.10,353.61 L337.60,353.61 L338.10,353.61 L338.60,353.61 L339.10,353.61 L339.60,353.61 L340.10,353.61 L340.60,353.61 L341.10,353.61 L341.60,353.61 L342.10,353.61 L342.60,353.61 L343.10,353.61 L343.60,353.61 L344.10,353.61 L344.60,353.61 L345.10,353.62 L345.60,353.62 L346.10,353.62 L346.60,353.62 L347.10,353.62 L347.60,353.62 L348.10,353.62 L348.60,353.62 L349.10,353.62 L349.60,353.62 L350.10,353.62 L350.60,353.62 L351.10,353.62 L351.60,353.62 L352.10,353.62 L352.60,353.62 L353.10,353.62 L353.60,353.62 L354.10,353.62 L354.60,353.62 L355.10,353.62 L355.60,353.62 L356.10,353.62 L356.60,353.62 L357.10,353.62 L357.60,353.62 L358.10,353.62 L358.60,353.62 L359.10,353.62 L359.60,353.62 L360.10,353.62 L360.60,353.62 L361.10,353.62 L361.60,353.62 L362.10,353.62 L362.60,353.62 L363.10,353.62 L363.60,353.62 L364.10,353.62 L364.60,353.62 L365.10,353.62 L365.60,353.62 L366.10,353.62 L366.60,353.62 L367.10,353.62 L367.60,353.62 L368.10,353.63 L368.60,353.63 L369.10,353.63 L369.60,353.63 L370.10,353.63 L370.60,353.63 L371.10,353.63 L371.60,353.63 L372.10,353.63 L372.60,353.63 L373.10,353.63 L373.60,353.63 L374.10,353.63 L374.60,353.63 L375.10,353.63 L375.60,353.63 L376.10,353.63 L376.60,353.63 L377.10,353.63 L377.60,353.63 L378.10,353.63 L378.60,353.63 L379.10,353.63 L379.60,353.63 L380.10,353.63 L380.60,353.63 L381.10,353.63 L381.60,353.63 L382.10,353.63 L382.60,353.63 L383.10,353.63 L383.60,353.63 L384.10,353.63 L384.60,353.63 L385.10,353.63 L385.60,353.64 L386.10,353.64 L386.60,353.64 L387.10,353.64 L387.60,353.64 L388.10,353.64 L388.60,353.64 L389.10,353.64 L389.60,353.64 L390.10,353.64 L390.60,353.64 L391.10,353.64 L391.60,353.64 L392.10,353.64 L392.60,353.64 L393.10,353.64 L393.60,353.64 L394.10,353.64 L394.60,353.64 L395.10,353.64 L395.60,353.64 L396.10,353.64 L396.60,353.64 L397.10,353.64 L397.60,353.64 L398.10,353.64 L398.60,353.64 L399.10,353.64 L399.60,353.64 L400.10,353.65 L400.60,353.65 L401.10,353.65 L401.60,353.65 L402.10,353.65 L402.60,353.65 L403.10,353.65 L403.60,353.65 L404.10,353.65 L404.60,353.65 L405.10,353.65 L405.60,353.65 L406.10,353.65 L406.60,353.65 L407.10,353.65 L407.60,353.65 L408.10,353.65 L408.60,353.65 L409.10,353.65 L409.60,353.65 L410.10,353.65 L410.60,353.65 L411.10,353.65 L411.60,353.65 L412.10,353.65 L412.60,353.66 L413.10,353.66 L413.60,353.66 L414.10,353.66 L414.60,353.66 L415.10,353.66 L415.60,353.66 L416.10,353.66 L416.60,353.66 L417.10,353.66 L417.60,353.66 L418.10,353.66 L418.60,353.66 L419.10,353.66 L419.60,353.66 L420.10,353.66 L420.60,353.66 L421.10,353.66 L421.60,353.66 L422.10,353.66 L422.60,353.66 L423.10,353.66 L423.60,353.67 L424.10,353.67 L424.60,353.67 L425.10,353.67 L425.60,353.67 L426.10,353.67 L426.60,353.67 L427.10,353.67 L427.60,353.67 L428.10,353.67 L428.60,353.67 L429.10,353.67 L429.60,353.67 L430.10,353.67 L430.60,353.67 L431.10,353.67 L431.60,353.67 L432.10,353.67 L432.60,353.67 L433.10,353.67 L433.60,353.68 L434.10,353.68 L434.60,353.68 L435.10,353.68 L435.60,353.68 L436.10,353.68 L436.60,353.68 L437.10,353.68 L437.60,353.68 L438.10,353.68 L438.60,353.68 L439.10,353.68 L439.60,353.68 L440.10,353.68 L440.60,353.68 L441.10,353.68 L441.60,353.68 L442.10,353.68 L442.60,353.69 L443.10,353.69 L443.60,353.69 L444.10,353.69 L444.60,353.69 L445.10,353.69 L445.60,353.69 L446.10,353.69 L446.60,353.69 L447.10,353.69 L447.60,353.69 L448.10,353.69 L448.60,353.69 L449.10,353.69 L449.60,353.69 L450.10,353.69 L450.60,353.69 L451.10,353.70 L451.60,353.70 L452.10,353.70 L452.60,353.70 L453.10,353.70 L453.60,353.70 L454.10,353.70 L454.60,353.70 L455.10,353.70 L455.60,353.70 L456.10,353.70 L456.60,353.70 L457.10,353.70 L457.60,353.70 L458.10,353.70 L458.60,353.71 L459.10,353.71 L459.60,353.71 L460.10,353.71 L460.60,353.71 L461.10,353.71 L461.60,353.71 L462.10,353.71 L462.60,353.71 L463.10,353.71 L463.60,353.71 L464.10,353.71 L464.60,353.71 L465.10,353.71 L465.60,353.71 L466.10,353.72 L466.60,353.72 L467.10,353.72 L467.60,353.72 L468.10,353.72 L468.60,353.72 L469.10,353.72 L469.60,353.72 L470.10,353.72 L470.60,353.72 L471.10,353.72 L471.60,353.72 L472.10,353.72 L472.60,353.72 L473.10,353.73 L473.60,353.73 L474.10,353.73 L474.60,353.73 L475.10,353.73 L475.60,353.73 L476.10,353.73 L476.60,353.73 L477.10,353.73 L477.60,353.73 L478.10,353.73 L478.60,353.73 L479.10,353.73 L479.60,353.74 L480.10,353.74 L480.60,353.74 L481.10,353.74 L481.60,353.74 L482.10,353.74 L482.60,353.74 L483.10,353.74 L483.60,353.74 L484.10,353.74 L484.60,353.74 L485.10,353.74 L485.60,353.74 L486.10,353.75 L486.60,353.75 L487.10,353.75 L487.60,353.75 L488.10,353.75 L488.60,353.75 L489.10,353.75 L489.60,353.75 L490.10,353.75 L490.60,353.75 L491.10,353.75 L491.60,353.76 L492.10,353.76 L492.60,353.76 L493.10,353.76 L493.60,353.76 L494.10,353.76 L494.60,353.76 L495.10,353.76 L495.60,353.76 L496.10,353.76 L496.60,353.76 L497.10,353.76 L497.60,353.77 L498.10,353.77 L498.60,353.77 L499.10,353.77 L499.60,353.77 L500.10,353.77 L500.60,353.77 L501.10,353.77 L501.60,353.77 L502.10,353.77 L502.60,353.77 L503.10,353.78 L503.60,353.78 L504.10,353.78 L504.60,353.78 L505.10,353.78 L505.60,353.78 L506.10,353.78 L506.60,353.78 L507.10,353.78 L507.60,353.78 L508.10,353.79 L508.60,353.79 L509.10,353.79 L509.60,353.79 L510.10,353.79 L510.60,353.79 L511.10,353.79 L511.60,353.79 L512.10,353.79 L512.60,353.79 L513.10,353.79 L513.60,353.80 L514.10,353.80 L514.60,353.80 L515.10,353.80 L515.60,353.80 L516.10,353.80 L516.60,353.80 L517.10,353.80 L517.60,353.80 L518.10,353.81 L518.60,353.81 L519.10,353.81 L519.60,353.81 L520.10,353.81 L520.60,353.81 L521.10,353.81 L521.60,353.81 L522.10,353.81 L522.60,353.81 L523.10,353.82 L523.60,353.82 L524.10,353.82 L524.60,353.82 L525.10,353.82 L525.60,353.82 L526.10,353.82 L526.60,353.82 L527.10,353.82 L527.60,353.83 L528.10,353.83 L528.60,353.83 L529.10,353.83 L529.60,353.83 L530.10,353.83 L530.60,353.83 L531.10,353.83 L531.60,353.83 L532.10,353.84 L532.60,353.84 L533.10,353.84 L533.60,353.84 L534.10,353.84 L534.60,353.84 L535.10,353.84 L535.60,353.84 L536.10,353.84 L536.60,353.85 L537.10,353.85 L537.60,353.85 L538.10,353.85 L538.60,353.85 L539.10,353.85 L539.60,353.85 L540.10,353.85 L540.60,353.86 L541.10,353.86 L541.60,353.86 L542.10,353.86 L542.60,353.86 L543.10,353.86 L543.60,353.86 L544.10,353.86 L544.60,353.86 L545.10,353.87 L545.60,353.87 L546.10,353.87 L546.60,353.87 L547.10,353.87 L547.60,353.87 L548.10,353.87 L548.60,353.87 L549.10,353.88 L549.60,353.88 L550.10,353.88 L550.60,353.88 L551.10,353.88 L551.60,353.88 L552.10,353.88 L552.60,353.88 L553.10,353.89 L553.60,353.89 L554.10,353.89 L554.60,353.89 L555.10,353.89 L555.60,353.89 L556.10,353.89 L556.60,353.90 L557.10,353.90 L557.60,353.90 L558.10,353.90 L558.60,353.90 L559.10,353.90 L559.60,353.90 L560.10,353.90 L560.60,353.91 L561.10,353.91 L561.60,353.91 L562.10,353.91 L562.60,353.91 L563.10,353.91 L563.60,353.91 L564.10,353.92 L564.60,353.92 L565.10,353.92 L565.60,353.92 L566.10,353.92 L566.60,353.92 L567.10,353.92 L567.60,353.93 L568.10,353.93 L568.60,353.93 L569.10,353.93 L569.60,353.93 L570.10,353.93 L570.60,353.93 L571.10,353.93 L571.60,353.94 L572.10,353.94 L572.60,353.94 L573.10,353.94 L573.60,353.94 L574.10,353.94 L574.60,353.95 L575.10,353.95 L575.60,353.95 L576.10,353.95 L576.60,353.95 L577.10,353.95 L577.60,353.95 L578.10,353.96 L578.60,353.96 L579.10,353.96 L579.60,353.96 L580.10,353.96 L580.60,353.96 L581.10,353.96 L581.60,353.97 L582.10,353.97 L582.60,353.97 L583.10,353.97 L583.60,353.97 L584.10,353.97 L584.60,353.98 L585.10,353.98 L585.60,353.98 L586.10,353.98 L586.60,353.98 L587.10,353.98 L587.60,353.98 L588.10,353.99 L588.60,353.99 L589.10,353.99 L589.60,353.99 L590.10,353.99 L590.60,353.99 L591.10,354.00 L591.60,354.00 L592.10,354.00" fill="none" stroke="#008000" stroke-width="2.2" clip-path="url(#cl)"/>
<path d="M136.70,205.00 L136.90,212.34 L137.10,219.51 L137.30,226.49 L137.50,233.25 L137.70,239.78 L137.90,246.07 L138.10,252.09 L138.30,257.84 L138.50,263.36 L138.70,268.68 L138.90,273.83 L139.10,278.82 L139.30,283.68 L139.50,288.44 L139.70,293.11 L139.90,297.71 L140.10,302.27 L140.30,306.77 L140.50,311.20 L140.70,315.56 L140.90,319.86 L141.10,324.08 L141.30,328.25 L141.50,332.35 L141.70,336.38 L141.90,340.35 L142.10,344.26 L142.30,348.10 L142.50,351.90 L142.70,355.77 L142.90,359.64 L143.10,363.46 L143.30,367.15 L143.50,370.63 L143.70,373.84 L143.90,376.72 L144.10,379.21 L144.30,381.49 L144.50,383.58 L144.70,385.45 L145.00,387.80 L145.41,387.61 L145.83,387.05 L146.24,386.13 L146.66,384.87 L147.07,383.30 L147.49,381.46 L147.90,379.38 L148.31,377.11 L148.73,374.70 L149.14,372.21 L149.56,369.69 L149.97,367.20 L150.39,364.79 L150.80,362.53 L151.21,360.44 L151.63,358.60 L152.04,357.03 L152.46,355.77 L152.87,354.85 L153.29,354.29 L153.70,354.10 L154.11,354.32 L154.51,354.95 L154.92,355.98 L155.33,357.34 L155.74,358.97 L156.14,360.79 L156.55,362.70 L156.96,364.61 L157.36,366.43 L157.77,368.06 L158.18,369.42 L158.59,370.45 L158.99,371.08 L159.40,371.30 L159.81,371.05 L160.23,370.29 L160.64,369.03 L161.05,367.29 L161.46,365.09 L161.88,362.44 L162.29,359.37 L162.70,355.92 L163.12,352.12 L163.53,348.01 L163.94,343.63 L164.35,339.02 L164.77,334.24 L165.18,329.34 L165.59,324.35 L166.01,319.35 L166.42,314.36 L166.83,309.46 L167.25,304.68 L167.66,300.07 L168.07,295.69 L168.48,291.58 L168.90,287.78 L169.31,284.33 L169.72,281.26 L170.14,278.61 L170.55,276.41 L170.96,274.67 L171.37,273.41 L171.79,272.65 L172.20,272.40 L172.61,272.63 L173.01,273.32 L173.42,274.47 L173.83,276.05 L174.23,278.05 L174.64,280.45 L175.05,283.22 L175.46,286.33 L175.86,289.73 L176.27,293.40 L176.68,297.28 L177.08,301.33 L177.49,305.51 L177.90,309.76 L178.30,314.04 L178.71,318.29 L179.12,322.47 L179.52,326.52 L179.93,330.40 L180.34,334.07 L180.74,337.47 L181.15,340.58 L181.56,343.35 L181.97,345.75 L182.37,347.75 L182.78,349.33 L183.19,350.48 L183.59,351.17 L184.00,351.40 L184.41,351.28 L184.81,350.91 L185.22,350.32 L185.62,349.52 L186.03,348.52 L186.43,347.38 L186.84,346.10 L187.24,344.75 L187.65,343.35 L188.06,341.95 L188.46,340.60 L188.87,339.32 L189.27,338.18 L189.68,337.18 L190.08,336.38 L190.49,335.79 L190.89,335.42 L191.30,335.30 L191.72,335.41 L192.15,335.75 L192.57,336.30 L192.99,337.04 L193.42,337.94 L193.84,338.99 L194.26,340.13 L194.69,341.34 L195.11,342.56 L195.54,343.77 L195.96,344.91 L196.38,345.96 L196.81,346.86 L197.23,347.60 L197.65,348.15 L198.08,348.49 L198.50,348.60 L198.91,348.45 L199.32,348.02 L199.73,347.30 L200.14,346.31 L200.55,345.05 L200.96,343.54 L201.37,341.80 L201.78,339.86 L202.19,337.72 L202.60,335.42 L203.01,332.98 L203.42,330.43 L203.83,327.81 L204.24,325.14 L204.66,322.46 L205.07,319.79 L205.48,317.17 L205.89,314.62 L206.30,312.18 L206.71,309.88 L207.12,307.74 L207.53,305.80 L207.94,304.06 L208.35,302.55 L208.76,301.29 L209.17,300.30 L209.58,299.58 L209.99,299.15 L210.40,299.00 L210.81,299.16 L211.22,299.62 L211.63,300.38 L212.04,301.44 L212.46,302.78 L212.87,304.37 L213.28,306.20 L213.69,308.25 L214.10,310.47 L214.51,312.86 L214.92,315.37 L215.33,317.96 L215.74,320.62 L216.16,323.28 L216.57,325.94 L216.98,328.53 L217.39,331.04 L217.80,333.42 L218.21,335.65 L218.62,337.70 L219.03,339.53 L219.44,341.12 L219.86,342.46 L220.27,343.52 L220.68,344.28 L221.09,344.74 L221.50,344.90 L221.90,344.83 L222.31,344.63 L222.71,344.30 L223.12,343.85 L223.52,343.28 L223.93,342.62 L224.33,341.88 L224.74,341.06 L225.14,340.20 L225.55,339.30 L225.95,338.40 L226.36,337.50 L226.76,336.64 L227.17,335.82 L227.57,335.08 L227.98,334.42 L228.38,333.85 L228.79,333.40 L229.19,333.07 L229.60,332.87 L230.00,332.80 L230.41,332.87 L230.82,333.06 L231.24,333.38 L231.65,333.82 L232.06,334.35 L232.47,334.96 L232.88,335.63 L233.29,336.34 L233.71,337.06 L234.12,337.77 L234.53,338.44 L234.94,339.05 L235.35,339.58 L235.76,340.02 L236.18,340.34 L236.59,340.53 L237.00,340.60 L237.41,340.52 L237.83,340.27 L238.24,339.85 L238.66,339.28 L239.07,338.56 L239.49,337.70 L239.90,336.70 L240.31,335.59 L240.73,334.38 L241.14,333.07 L241.56,331.69 L241.97,330.26 L242.39,328.79 L242.80,327.30 L243.21,325.81 L243.63,324.34 L244.04,322.91 L244.46,321.53 L244.87,320.22 L245.29,319.01 L245.70,317.90 L246.11,316.90 L246.53,316.04 L246.94,315.32 L247.36,314.75 L247.77,314.33 L248.19,314.08 L248.60,314.00 L249.00,314.05 L249.41,314.22 L249.81,314.48 L250.21,314.86 L250.62,315.33 L251.02,315.90 L251.42,316.55 L251.82,317.30 L252.23,318.11 L252.63,319.00 L253.03,319.95 L253.44,320.94 L253.84,321.98 L254.24,323.06 L254.65,324.15 L255.05,325.25 L255.45,326.35 L255.86,327.44 L256.26,328.52 L256.66,329.56 L257.07,330.55 L257.47,331.50 L257.87,332.39 L258.27,333.20 L258.68,333.95 L259.08,334.60 L259.48,335.17 L259.89,335.64 L260.29,336.02 L260.69,336.28 L261.10,336.45 L261.50,336.50 L261.92,336.48 L262.33,336.42 L262.75,336.33 L263.16,336.20 L263.57,336.05 L263.99,335.86 L264.41,335.65 L264.82,335.43 L265.24,335.19 L265.65,334.95 L266.06,334.71 L266.48,334.47 L266.89,334.25 L267.31,334.04 L267.73,333.85 L268.14,333.70 L268.56,333.57 L268.97,333.48 L269.38,333.42 L269.80,333.40 L270.21,333.42 L270.63,333.47 L271.04,333.55 L271.45,333.66 L271.87,333.80 L272.28,333.95 L272.69,334.12 L273.11,334.28 L273.52,334.45 L273.93,334.60 L274.35,334.74 L274.76,334.85 L275.17,334.93 L275.59,334.98 L276.00,335.00 L276.41,334.97 L276.82,334.89 L277.24,334.76 L277.65,334.58 L278.06,334.35 L278.47,334.08 L278.88,333.77 L279.30,333.42 L279.71,333.05 L280.12,332.65 L280.53,332.24 L280.94,331.81 L281.36,331.39 L281.77,330.96 L282.18,330.55 L282.59,330.15 L283.00,329.78 L283.42,329.43 L283.83,329.12 L284.24,328.85 L284.65,328.62 L285.06,328.44 L285.48,328.31 L285.89,328.23 L286.30,328.20 L286.71,328.22 L287.11,328.28 L287.52,328.37 L287.92,328.50 L288.33,328.65 L288.73,328.83 L289.14,329.04 L289.54,329.26 L289.95,329.48 L290.35,329.72 L290.76,329.94 L291.16,330.16 L291.57,330.37 L291.97,330.55 L292.38,330.70 L292.78,330.83 L293.19,330.92 L293.59,330.98 L294.00,331.00 L294.41,330.99 L294.83,330.96 L295.24,330.92 L295.66,330.85 L296.07,330.77 L296.49,330.67 L296.90,330.56 L297.32,330.44 L297.73,330.30 L298.15,330.15 L298.56,330.00 L298.98,329.84 L299.39,329.68 L299.81,329.52 L300.22,329.36 L300.64,329.20 L301.05,329.05 L301.47,328.90 L301.88,328.76 L302.30,328.64 L302.71,328.53 L303.13,328.43 L303.54,328.35 L303.96,328.28 L304.37,328.24 L304.79,328.21 L305.20,328.20 L305.61,328.21 L306.01,328.23 L306.42,328.27 L306.83,328.33 L307.23,328.40 L307.64,328.49 L308.05,328.60 L308.46,328.71 L308.86,328.85 L309.27,328.99 L309.68,329.15 L310.08,329.32 L310.49,329.50 L310.90,329.69 L311.30,329.88 L311.71,330.09 L312.12,330.30 L312.53,330.52 L312.93,330.74 L313.34,330.96 L313.75,331.19 L314.15,331.41 L314.56,331.64 L314.97,331.86 L315.37,332.08 L315.78,332.30 L316.19,332.51 L316.60,332.72 L317.00,332.91 L317.41,333.10 L317.82,333.28 L318.22,333.45 L318.63,333.61 L319.04,333.75 L319.44,333.89 L319.85,334.00 L320.26,334.11 L320.67,334.20 L321.07,334.27 L321.48,334.33 L321.89,334.37 L322.29,334.39 L322.70,334.40 L323.11,334.39 L323.51,334.36 L323.92,334.32 L324.32,334.26 L324.73,334.18 L325.14,334.09 L325.54,333.97 L325.95,333.85 L326.35,333.70 L326.76,333.55 L327.16,333.37 L327.57,333.19 L327.98,332.99 L328.38,332.78 L328.79,332.55 L329.19,332.32 L329.60,332.07 L330.01,331.82 L330.41,331.56 L330.82,331.30 L331.22,331.02 L331.63,330.74 L332.04,330.46 L332.44,330.18 L332.85,329.89 L333.25,329.61 L333.66,329.32 L334.06,329.04 L334.47,328.76 L334.88,328.48 L335.28,328.20 L335.69,327.94 L336.09,327.68 L336.50,327.43 L336.91,327.18 L337.31,326.95 L337.72,326.72 L338.12,326.51 L338.53,326.31 L338.94,326.13 L339.34,325.95 L339.75,325.80 L340.15,325.65 L340.56,325.53 L340.96,325.41 L341.37,325.32 L341.78,325.24 L342.18,325.18 L342.59,325.14 L342.99,325.11 L343.40,325.10 L343.80,325.12 L344.20,325.18 L344.60,325.28 L345.00,325.42 L345.40,325.60 L345.80,325.82 L346.20,326.07 L346.60,326.36 L347.00,326.68 L347.40,327.04 L347.80,327.42 L348.20,327.83 L348.60,328.27 L349.00,328.73 L349.40,329.20 L349.80,329.70 L350.20,330.21 L350.60,330.74 L351.00,331.27 L351.40,331.81 L351.80,332.35 L352.20,332.89 L352.60,333.43 L353.00,333.96 L353.40,334.49 L353.80,335.00 L354.20,335.50 L354.60,335.98 L355.00,336.43 L355.40,336.87 L355.80,337.28 L356.20,337.66 L356.60,338.02 L357.00,338.34 L357.40,338.63 L357.80,338.88 L358.20,339.10 L358.60,339.28 L359.00,339.42 L359.40,339.52 L359.80,339.58 L360.20,339.60 L360.60,339.58 L361.01,339.53 L361.41,339.45 L361.82,339.33 L362.22,339.19 L362.62,339.01 L363.03,338.79 L363.43,338.55 L363.84,338.28 L364.24,337.98 L364.64,337.66 L365.05,337.30 L365.45,336.93 L365.85,336.53 L366.26,336.10 L366.66,335.66 L367.07,335.20 L367.47,334.72 L367.87,334.23 L368.28,333.72 L368.68,333.21 L369.09,332.68 L369.49,332.15 L369.89,331.61 L370.30,331.07 L370.70,330.53 L371.11,329.99 L371.51,329.45 L371.91,328.92 L372.32,328.39 L372.72,327.88 L373.13,327.37 L373.53,326.88 L373.93,326.40 L374.34,325.94 L374.74,325.50 L375.15,325.07 L375.55,324.67 L375.95,324.30 L376.36,323.94 L376.76,323.62 L377.16,323.32 L377.57,323.05 L377.97,322.81 L378.38,322.59 L378.78,322.41 L379.18,322.27 L379.59,322.15 L379.99,322.07 L380.40,322.02 L380.80,322.00 L381.20,322.02 L381.60,322.08 L382.01,322.17 L382.41,322.30 L382.81,322.47 L383.21,322.68 L383.61,322.92 L384.02,323.20 L384.42,323.51 L384.82,323.85 L385.22,324.22 L385.62,324.62 L386.03,325.05 L386.43,325.50 L386.83,325.98 L387.23,326.48 L387.63,327.00 L388.04,327.54 L388.44,328.09 L388.84,328.65 L389.24,329.23 L389.64,329.82 L390.05,330.41 L390.45,331.00 L390.85,331.60 L391.25,332.19 L391.66,332.78 L392.06,333.37 L392.46,333.95 L392.86,334.51 L393.26,335.06 L393.67,335.60 L394.07,336.12 L394.47,336.62 L394.87,337.10 L395.27,337.55 L395.68,337.98 L396.08,338.38 L396.48,338.75 L396.88,339.09 L397.28,339.40 L397.69,339.68 L398.09,339.92 L398.49,340.13 L398.89,340.30 L399.29,340.43 L399.70,340.52 L400.10,340.58 L400.50,340.60 L400.90,340.58 L401.30,340.51 L401.70,340.40 L402.10,340.25 L402.50,340.06 L402.90,339.82 L403.30,339.55 L403.70,339.23 L404.10,338.88 L404.50,338.49 L404.90,338.07 L405.30,337.61 L405.70,337.13 L406.10,336.61 L406.50,336.07 L406.90,335.51 L407.30,334.93 L407.70,334.32 L408.10,333.70 L408.50,333.07 L408.90,332.43 L409.30,331.78 L409.70,331.13 L410.10,330.47 L410.50,329.82 L410.90,329.17 L411.30,328.53 L411.70,327.90 L412.10,327.28 L412.50,326.67 L412.90,326.09 L413.30,325.53 L413.70,324.99 L414.10,324.47 L414.50,323.99 L414.90,323.53 L415.30,323.11 L415.70,322.72 L416.10,322.37 L416.50,322.05 L416.90,321.78 L417.30,321.54 L417.70,321.35 L418.10,321.20 L418.50,321.09 L418.90,321.02 L419.30,321.00 L419.71,321.02 L420.12,321.08 L420.53,321.18 L420.93,321.32 L421.34,321.49 L421.75,321.71 L422.16,321.96 L422.57,322.25 L422.98,322.57 L423.38,322.92 L423.79,323.31 L424.20,323.72 L424.61,324.17 L425.02,324.64 L425.43,325.13 L425.83,325.65 L426.24,326.19 L426.65,326.74 L427.06,327.31 L427.47,327.89 L427.88,328.49 L428.28,329.09 L428.69,329.69 L429.10,330.30 L429.51,330.91 L429.92,331.51 L430.32,332.11 L430.73,332.71 L431.14,333.29 L431.55,333.86 L431.96,334.41 L432.37,334.95 L432.77,335.47 L433.18,335.96 L433.59,336.43 L434.00,336.88 L434.41,337.29 L434.82,337.68 L435.22,338.03 L435.63,338.35 L436.04,338.64 L436.45,338.89 L436.86,339.11 L437.27,339.28 L437.67,339.42 L438.08,339.52 L438.49,339.58 L438.90,339.60 L439.30,339.58 L439.70,339.53 L440.11,339.45 L440.51,339.33 L440.91,339.18 L441.31,339.00 L441.71,338.78 L442.12,338.54 L442.52,338.26 L442.92,337.96 L443.32,337.63 L443.72,337.28 L444.13,336.90 L444.53,336.49 L444.93,336.07 L445.33,335.63 L445.73,335.17 L446.14,334.69 L446.54,334.20 L446.94,333.70 L447.34,333.19 L447.74,332.67 L448.15,332.14 L448.55,331.61 L448.95,331.09 L449.35,330.56 L449.76,330.03 L450.16,329.51 L450.56,329.00 L450.96,328.50 L451.36,328.01 L451.77,327.53 L452.17,327.07 L452.57,326.63 L452.97,326.21 L453.37,325.80 L453.78,325.42 L454.18,325.07 L454.58,324.74 L454.98,324.44 L455.38,324.16 L455.79,323.92 L456.19,323.70 L456.59,323.52 L456.99,323.37 L457.39,323.25 L457.80,323.17 L458.20,323.12 L458.60,323.10 L459.00,323.12 L459.41,323.17 L459.81,323.26 L460.22,323.39 L460.62,323.55 L461.03,323.75 L461.43,323.98 L461.84,324.24 L462.24,324.54 L462.65,324.86 L463.05,325.21 L463.45,325.59 L463.86,325.99 L464.26,326.41 L464.67,326.85 L465.07,327.31 L465.48,327.78 L465.88,328.27 L466.29,328.77 L466.69,329.28 L467.10,329.79 L467.50,330.30 L467.90,330.81 L468.31,331.32 L468.71,331.83 L469.12,332.33 L469.52,332.82 L469.93,333.29 L470.33,333.75 L470.74,334.19 L471.14,334.61 L471.55,335.01 L471.95,335.39 L472.35,335.74 L472.76,336.06 L473.16,336.36 L473.57,336.62 L473.97,336.85 L474.38,337.05 L474.78,337.21 L475.19,337.34 L475.59,337.43 L476.00,337.48 L476.40,337.50 L476.80,337.49 L477.20,337.45 L477.60,337.40 L478.00,337.32 L478.40,337.21 L478.80,337.09 L479.20,336.94 L479.60,336.77 L480.00,336.59 L480.40,336.38 L480.80,336.15 L481.20,335.91 L481.60,335.65 L482.00,335.37 L482.40,335.08 L482.80,334.78 L483.20,334.46 L483.60,334.14 L484.00,333.80 L484.40,333.46 L484.80,333.11 L485.20,332.75 L485.60,332.39 L486.00,332.03 L486.40,331.67 L486.80,331.31 L487.20,330.95 L487.60,330.59 L488.00,330.24 L488.40,329.90 L488.80,329.56 L489.20,329.24 L489.60,328.92 L490.00,328.62 L490.40,328.33 L490.80,328.05 L491.20,327.79 L491.60,327.55 L492.00,327.32 L492.40,327.11 L492.80,326.93 L493.20,326.76 L493.60,326.61 L494.00,326.49 L494.40,326.38 L494.80,326.30 L495.20,326.25 L495.60,326.21 L496.00,326.20 L496.40,326.21 L496.81,326.23 L497.21,326.28 L497.62,326.33 L498.02,326.41 L498.43,326.50 L498.83,326.60 L499.23,326.72 L499.64,326.86 L500.04,327.01 L500.45,327.17 L500.85,327.34 L501.26,327.53 L501.66,327.72 L502.07,327.93 L502.47,328.14 L502.87,328.37 L503.28,328.59 L503.68,328.83 L504.09,329.07 L504.49,329.31 L504.90,329.55 L505.30,329.80 L505.70,330.05 L506.11,330.29 L506.51,330.53 L506.92,330.77 L507.32,331.01 L507.73,331.23 L508.13,331.46 L508.53,331.67 L508.94,331.88 L509.34,332.07 L509.75,332.26 L510.15,332.43 L510.56,332.59 L510.96,332.74 L511.37,332.88 L511.77,333.00 L512.17,333.10 L512.58,333.19 L512.98,333.27 L513.39,333.32 L513.79,333.37 L514.20,333.39 L514.60,333.40 L515.00,333.40 L515.40,333.38 L515.81,333.36 L516.21,333.32 L516.61,333.28 L517.01,333.23 L517.41,333.17 L517.82,333.10 L518.22,333.03 L518.62,332.94 L519.02,332.85 L519.42,332.75 L519.83,332.64 L520.23,332.52 L520.63,332.40 L521.03,332.28 L521.43,332.15 L521.83,332.01 L522.24,331.87 L522.64,331.72 L523.04,331.57 L523.44,331.42 L523.84,331.27 L524.25,331.11 L524.65,330.96 L525.05,330.80 L525.45,330.64 L525.85,330.49 L526.26,330.33 L526.66,330.18 L527.06,330.03 L527.46,329.88 L527.86,329.73 L528.27,329.59 L528.67,329.45 L529.07,329.32 L529.47,329.20 L529.87,329.08 L530.27,328.96 L530.68,328.85 L531.08,328.75 L531.48,328.66 L531.88,328.57 L532.28,328.50 L532.69,328.43 L533.09,328.37 L533.49,328.32 L533.89,328.28 L534.29,328.24 L534.70,328.22 L535.10,328.20 L535.50,328.20 L535.90,328.21 L536.30,328.23 L536.70,328.26 L537.10,328.31 L537.50,328.36 L537.90,328.43 L538.30,328.52 L538.70,328.61 L539.10,328.72 L539.50,328.84 L539.90,328.96 L540.30,329.10 L540.70,329.24 L541.10,329.39 L541.50,329.55 L541.90,329.72 L542.30,329.89 L542.70,330.07 L543.10,330.25 L543.50,330.43 L543.90,330.61 L544.30,330.80 L544.70,330.99 L545.10,331.17 L545.50,331.35 L545.90,331.53 L546.30,331.71 L546.70,331.88 L547.10,332.05 L547.50,332.21 L547.90,332.36 L548.30,332.50 L548.70,332.64 L549.10,332.76 L549.50,332.88 L549.90,332.99 L550.30,333.08 L550.70,333.17 L551.10,333.24 L551.50,333.29 L551.90,333.34 L552.30,333.37 L552.70,333.39 L553.10,333.40 L553.50,333.40 L553.91,333.39 L554.31,333.37 L554.72,333.34 L555.12,333.31 L555.53,333.27 L555.93,333.23 L556.33,333.17 L556.74,333.12 L557.14,333.05 L557.55,332.98 L557.95,332.91 L558.36,332.83 L558.76,332.74 L559.17,332.66 L559.57,332.56 L559.97,332.47 L560.38,332.37 L560.78,332.27 L561.19,332.17 L561.59,332.06 L562.00,331.96 L562.40,331.85 L562.80,331.74 L563.21,331.64 L563.61,331.53 L564.02,331.43 L564.42,331.33 L564.83,331.23 L565.23,331.14 L565.63,331.04 L566.04,330.96 L566.44,330.87 L566.85,330.79 L567.25,330.72 L567.66,330.65 L568.06,330.58 L568.47,330.53 L568.87,330.47 L569.27,330.43 L569.68,330.39 L570.08,330.36 L570.49,330.33 L570.89,330.31 L571.30,330.30 L571.70,330.30 L572.11,330.30 L572.52,330.30 L572.92,330.30 L573.33,330.30 L573.74,330.30 L574.15,330.30 L574.55,330.30 L574.96,330.30 L575.37,330.30 L575.78,330.30 L576.19,330.30 L576.59,330.30 L577.00,330.30 L577.41,330.30 L577.82,330.30 L578.23,330.30 L578.63,330.30 L579.04,330.30 L579.45,330.30 L579.86,330.30 L580.26,330.30 L580.67,330.30 L581.08,330.30 L581.49,330.30 L581.90,330.30 L582.30,330.30 L582.71,330.30 L583.12,330.30 L583.53,330.30 L583.94,330.30 L584.34,330.30 L584.75,330.30 L585.16,330.30 L585.57,330.30 L585.97,330.30 L586.38,330.30 L586.79,330.30 L587.20,330.30 L587.61,330.30 L588.01,330.30 L588.42,330.30 L588.83,330.30 L589.24,330.30 L589.65,330.30 L590.05,330.30 L590.46,330.30 L590.87,330.30 L591.28,330.30 L591.68,330.30 L592.09,330.30 L592.50,330.30" fill="none" stroke="#0000ff" stroke-width="2.7" clip-path="url(#cl)"/>
<rect x="133.5" y="21.5" width="459" height="399.5" fill="none" stroke="#111" stroke-width="1.2"/>
<line x1="133.5" y1="221" x2="592.5" y2="221" stroke="#333" stroke-width="1"/>
<line x1="133.3" y1="421" x2="133.3" y2="415" stroke="#111" stroke-width="1"/>
<line x1="133.3" y1="21.5" x2="133.3" y2="27.5" stroke="#111" stroke-width="1"/>
<line x1="209.9" y1="421" x2="209.9" y2="417" stroke="#111" stroke-width="1"/>
<line x1="209.9" y1="21.5" x2="209.9" y2="25.5" stroke="#111" stroke-width="1"/>
<line x1="286.5" y1="421" x2="286.5" y2="415" stroke="#111" stroke-width="1"/>
<line x1="286.5" y1="21.5" x2="286.5" y2="27.5" stroke="#111" stroke-width="1"/>
<line x1="363.1" y1="421" x2="363.1" y2="417" stroke="#111" stroke-width="1"/>
<line x1="363.1" y1="21.5" x2="363.1" y2="25.5" stroke="#111" stroke-width="1"/>
<line x1="439.7" y1="421" x2="439.7" y2="415" stroke="#111" stroke-width="1"/>
<line x1="439.7" y1="21.5" x2="439.7" y2="27.5" stroke="#111" stroke-width="1"/>
<line x1="516.3" y1="421" x2="516.3" y2="417" stroke="#111" stroke-width="1"/>
<line x1="516.3" y1="21.5" x2="516.3" y2="25.5" stroke="#111" stroke-width="1"/>
<line x1="592.9" y1="421" x2="592.9" y2="415" stroke="#111" stroke-width="1"/>
<line x1="592.9" y1="21.5" x2="592.9" y2="27.5" stroke="#111" stroke-width="1"/>
<line x1="133.5" y1="209.0" x2="140.5" y2="209.0" stroke="#111" stroke-width="1.2"/>
<line x1="592.5" y1="209.0" x2="585.5" y2="209.0" stroke="#111" stroke-width="1.2"/>
<line x1="129.5" y1="165.2" x2="133.5" y2="165.2" stroke="#111" stroke-width="1.2"/>
<line x1="592.5" y1="165.2" x2="588.5" y2="165.2" stroke="#111" stroke-width="1.2"/>
<line x1="133.5" y1="121.5" x2="140.5" y2="121.5" stroke="#111" stroke-width="1.2"/>
<line x1="592.5" y1="121.5" x2="585.5" y2="121.5" stroke="#111" stroke-width="1.2"/>
<line x1="129.5" y1="77.8" x2="133.5" y2="77.8" stroke="#111" stroke-width="1.2"/>
<line x1="592.5" y1="77.8" x2="588.5" y2="77.8" stroke="#111" stroke-width="1.2"/>
<line x1="133.5" y1="34.0" x2="140.5" y2="34.0" stroke="#111" stroke-width="1.2"/>
<line x1="592.5" y1="34.0" x2="585.5" y2="34.0" stroke="#111" stroke-width="1.2"/>
<line x1="133.5" y1="377.5" x2="140.5" y2="377.5" stroke="#111" stroke-width="1"/>
<line x1="592.5" y1="377.5" x2="585.5" y2="377.5" stroke="#111" stroke-width="1"/>
<line x1="133.5" y1="334.2" x2="137.5" y2="334.2" stroke="#111" stroke-width="1"/>
<line x1="592.5" y1="334.2" x2="588.5" y2="334.2" stroke="#111" stroke-width="1"/>
<line x1="133.5" y1="291.0" x2="140.5" y2="291.0" stroke="#111" stroke-width="1"/>
<line x1="592.5" y1="291.0" x2="585.5" y2="291.0" stroke="#111" stroke-width="1"/>
<line x1="133.5" y1="247.8" x2="137.5" y2="247.8" stroke="#111" stroke-width="1"/>
<line x1="592.5" y1="247.8" x2="588.5" y2="247.8" stroke="#111" stroke-width="1"/>
<line x1="158.7" y1="176.4" x2="201.8" y2="92.5" stroke="#008000" stroke-width="2.7"/><polygon points="207.3,81.8 205.1,96.4 196.7,92.1" fill="#008000" stroke="#008000" stroke-width="0.6" stroke-linejoin="round"/>
<line x1="212.2" y1="169.4" x2="281.7" y2="124.8" stroke="#ff0000" stroke-width="2.7"/><polygon points="291.8,118.3 282.6,129.9 277.5,121.9" fill="#ff0000" stroke="#ff0000" stroke-width="0.6" stroke-linejoin="round"/>
<line x1="170.0" y1="345.0" x2="209.5" y2="257.7" stroke="#008000" stroke-width="2.7"/><polygon points="214.5,246.8 213.0,261.5 204.4,257.6" fill="#008000" stroke="#008000" stroke-width="0.6" stroke-linejoin="round"/>
<line x1="267.4" y1="364.1" x2="307.7" y2="287.5" stroke="#ff0000" stroke-width="2.7"/><polygon points="313.3,276.9 311.0,291.5 302.6,287.1" fill="#ff0000" stroke="#ff0000" stroke-width="0.6" stroke-linejoin="round"/>
<text transform="translate(85.87,39.49) scale(1.006,1)" font-family="Liberation Sans, sans-serif" font-size="20.56" fill="#000">0.14</text>
<text transform="translate(85.86,126.79) scale(1.022,1)" font-family="Liberation Sans, sans-serif" font-size="20.56" fill="#000">0.07</text>
<text transform="translate(85.86,214.49) scale(1.003,1)" font-family="Liberation Sans, sans-serif" font-size="20.85" fill="#000">0.00</text>
<text transform="translate(85.86,296.49) scale(1.003,1)" font-family="Liberation Sans, sans-serif" font-size="20.85" fill="#000">0.05</text>
<text transform="translate(85.86,383.49) scale(1.003,1)" font-family="Liberation Sans, sans-serif" font-size="20.85" fill="#000">0.00</text>
<text transform="translate(133.64,441.99) scale(1.016,1)" font-family="Liberation Sans, sans-serif" font-size="21.13" fill="#000">0</text>
<text transform="translate(275.25,441.99) scale(0.98,1)" font-family="Liberation Sans, sans-serif" font-size="21.13" fill="#000">100</text>
<text transform="translate(427.53,441.99) scale(1.01,1)" font-family="Liberation Sans, sans-serif" font-size="21.13" fill="#000">200</text>
<text transform="translate(581.16,441.99) scale(0.991,1)" font-family="Liberation Sans, sans-serif" font-size="21.13" fill="#000">300</text>
<text transform="translate(339.1,462.02) scale(1.021,1)" font-family="Liberation Sans, sans-serif" font-size="26.1" fill="#000">t(ns)</text>
<text transform="translate(18.3,76.54) scale(0.954,1)" font-family="Liberation Sans, sans-serif" font-size="38.4" fill="#000">(a)</text>
<text transform="translate(747.6,76.61) scale(0.994,1)" font-family="Liberation Sans, sans-serif" font-size="38.5" fill="#000">(b)</text>
<text transform="translate(407.49,51.13) scale(1.006,1)" font-family="Liberation Sans, sans-serif" font-size="18.44" font-weight="bold" fill="#000">Room temperature</text>
<text transform="translate(197.99,72.81) scale(1.048,1)" font-family="Liberation Sans, sans-serif" font-size="19.46" font-weight="bold" fill="#000">site A</text>
<text transform="translate(210.49,248.51) scale(1.07,1)" font-family="Liberation Sans, sans-serif" font-size="18.91" font-weight="bold" fill="#000">site A</text>
<text transform="translate(527.53,249.64) scale(0.978,1)" font-family="Liberation Sans, sans-serif" font-size="26.34" font-weight="bold" fill="#000">10 K</text>
<text transform="translate(295.7,113.7) scale(1.01,1)" font-family="Liberation Sans, sans-serif" font-size="19.73" font-weight="bold" fill="#e00000">site B</text>
<text transform="translate(305.01,271.11) scale(1.025,1)" font-family="Liberation Sans, sans-serif" font-size="19.32" font-weight="bold" fill="#e00000">site B</text>
<text transform="translate(72.41,249.11) rotate(-90) scale(1.009,1)" font-family="Liberation Sans, sans-serif" font-size="26.63" fill="#000">- R(t)</text>
<defs>
<radialGradient id="gring" cx="0.5" cy="0.5" r="0.5">
<stop offset="0.72" stop-color="#e6e7e4"/>
<stop offset="0.80" stop-color="#dcdcdc"/>
<stop offset="0.88" stop-color="#cacaca"/>
<stop offset="0.95" stop-color="#b6b6b6"/>
<stop offset="0.99" stop-color="#a3a3a3"/>
<stop offset="1" stop-color="#979797"/>
</radialGradient>
<radialGradient id="golive" cx="0.5" cy="0.5" r="0.52" fx="0.48" fy="0.45">
<stop offset="0" stop-color="#cbc7a4"/>
<stop offset="0.3" stop-color="#bab58b"/>
<stop offset="0.6" stop-color="#a6a06d"/>
<stop offset="0.85" stop-color="#98925c"/>
<stop offset="1" stop-color="#8c8650"/>
</radialGradient>
<filter id="soft" x="-10%" y="-10%" width="120%" height="120%"><feGaussianBlur stdDeviation="2.4"/></filter>
<radialGradient id="gdot" cx="0.5" cy="0.5" r="0.5">
<stop offset="0" stop-color="#8a8a72"/>
<stop offset="0.2" stop-color="#8e8e62"/>
<stop offset="0.3" stop-color="#f8f838"/>
<stop offset="0.45" stop-color="#ffff10"/>
<stop offset="0.75" stop-color="#ffd800"/>
<stop offset="1" stop-color="#f2b200"/>
</radialGradient>
<marker id="ah" viewBox="0 0 10 10" refX="7" refY="5" markerWidth="3" markerHeight="3" orient="auto"><path d="M0,0 L10,5 L0,10 z" fill="#e00000"/></marker>
</defs>
<ellipse cx="778.5" cy="252.8" rx="153.3" ry="147.8" fill="url(#gring)"/>
<ellipse cx="778.5" cy="251.5" rx="113.5" ry="109.5" fill="url(#golive)" filter="url(#soft)"/>
<path d="M749.7,161.4 C742,159 736,157 733,151 C730,146 722,144.5 708.5,143.3" fill="none" stroke="#e00000" stroke-width="2.4" marker-end="url(#ah)"/>
<path d="M767.5,157.6 C776,156 781,153 784,147 C787,142.5 791,141 795.5,140.4" fill="none" stroke="#e00000" stroke-width="2.4" marker-end="url(#ah)"/>
<path d="M776.9,247.1 C765,245.5 756,243 752.5,236 C750,231 740,229 726.5,228.5" fill="none" stroke="#e00000" stroke-width="2.4" marker-end="url(#ah)"/>
<path d="M791.8,237.2 C796,232 801,229 809,227.3 C816,225.5 821,221 823.8,213" fill="none" stroke="#e00000" stroke-width="2.4" marker-end="url(#ah)"/>
<ellipse cx="759.6" cy="164.2" rx="10" ry="10.6" fill="url(#gdot)"/>
<ellipse cx="786.4" cy="246.5" rx="10" ry="10.5" fill="url(#gdot)"/>
<text transform="translate(718.89,181.4) scale(1.225,1)" font-family="Liberation Sans, sans-serif" font-size="10.14" font-weight="bold" fill="#000">111</text>
<text transform="translate(738.08,187.63) scale(0.921,1)" font-family="Liberation Sans, sans-serif" font-size="16.87" font-weight="bold" fill="#000">Cd-site A</text>
<text transform="translate(744.09,269.4) scale(1.231,1)" font-family="Liberation Sans, sans-serif" font-size="10.14" font-weight="bold" fill="#000">111</text>
<text transform="translate(763.39,275.63) scale(0.899,1)" font-family="Liberation Sans, sans-serif" font-size="16.87" font-weight="bold" fill="#000">Cd-site B</text>
</svg>
</body></html>
